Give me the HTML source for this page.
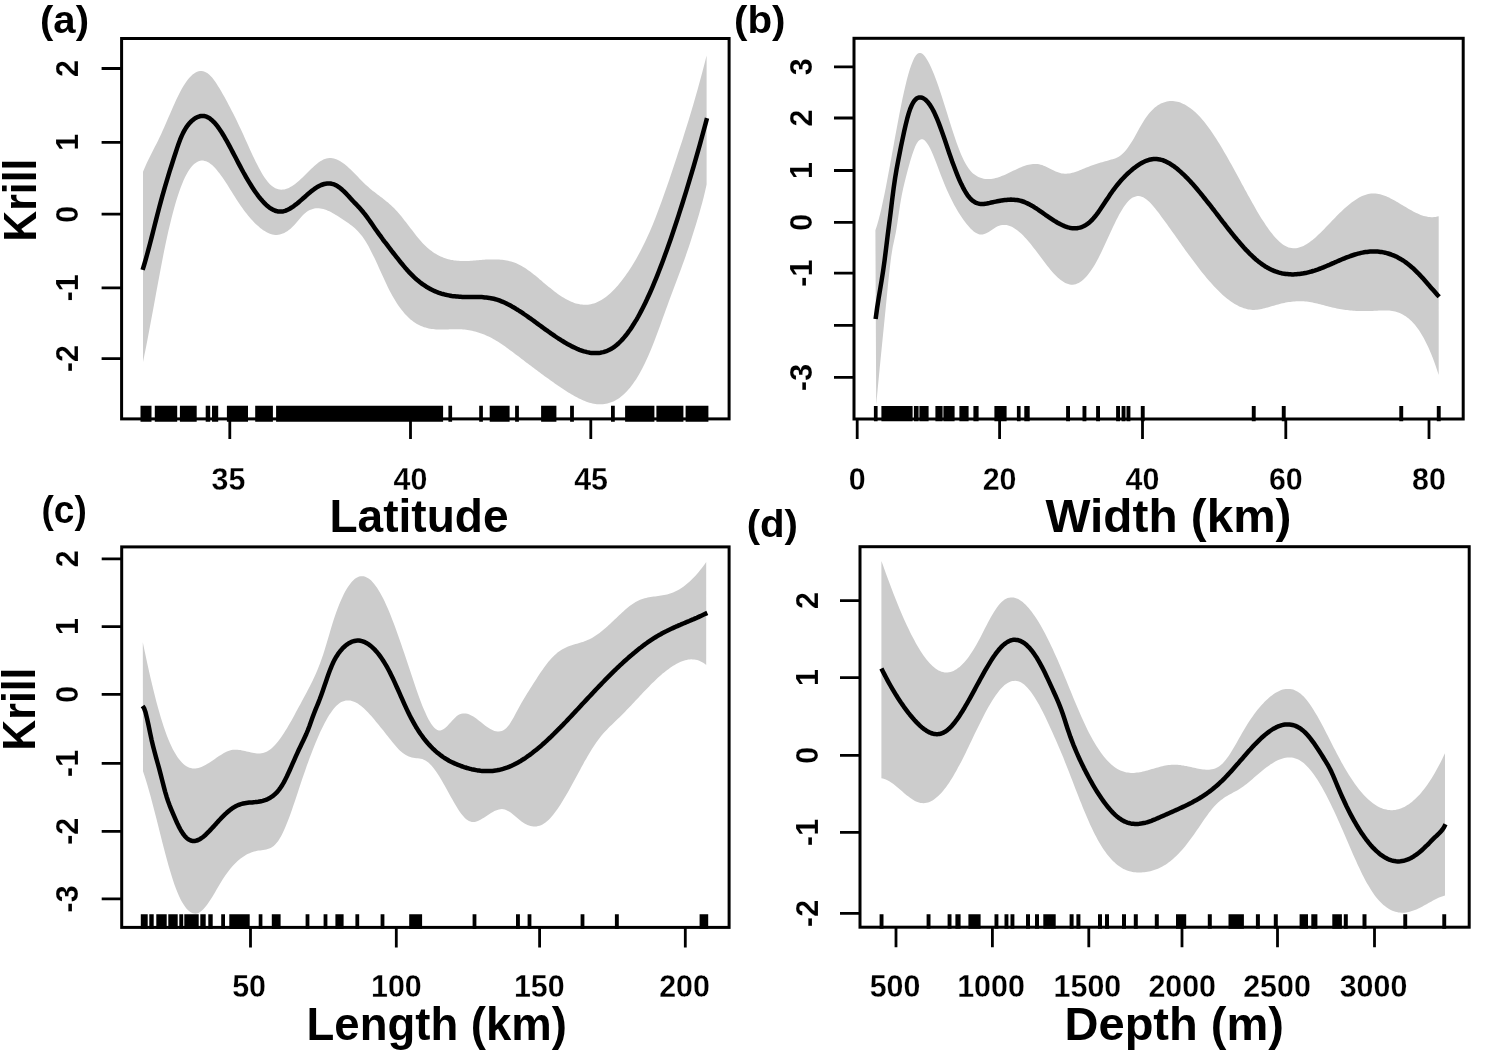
<!DOCTYPE html>
<html lang="en">
<head>
<meta charset="utf-8">
<title>Krill GAM smooths</title>
<style>
html,body{margin:0;padding:0;background:#fff;}
body{width:1500px;height:1051px;overflow:hidden;}
svg{display:block;}
text{font-family:'Liberation Sans', 'DejaVu Sans', sans-serif;font-weight:700;fill:#000;}
.tl{font-size:32.0px;stroke:#fff;stroke-width:0.25px;}
.ty{stroke-width:0.1px;}
</style>
</head>
<body>
<svg width="1500" height="1051" viewBox="0 0 1500 1051">
<rect width="1500" height="1051" fill="#fff"/>
<g>
<path d="M143.0,171.8 L144.5,168.2 L146.0,164.8 L147.5,161.6 L149.0,158.5 L150.5,155.4 L152.0,152.5 L153.5,149.6 L155.0,146.6 L156.5,143.7 L158.0,140.7 L159.5,137.6 L161.0,134.4 L162.5,131.1 L164.0,127.7 L165.5,124.2 L167.0,120.7 L168.5,117.2 L170.1,113.7 L171.6,110.2 L173.1,106.8 L174.6,103.4 L176.1,100.1 L177.6,96.9 L179.1,93.9 L180.6,91.0 L182.1,88.3 L183.6,85.8 L185.1,83.4 L186.6,81.3 L188.1,79.3 L189.6,77.6 L191.1,76.0 L192.6,74.6 L194.1,73.5 L195.6,72.6 L197.1,71.8 L198.6,71.3 L200.1,71.1 L201.6,71.0 L203.1,71.2 L204.6,71.7 L206.1,72.4 L207.6,73.3 L209.1,74.5 L210.6,75.9 L212.1,77.6 L213.6,79.5 L215.1,81.6 L216.6,83.8 L218.1,86.2 L219.6,88.6 L221.2,91.2 L222.7,93.9 L224.2,96.6 L225.7,99.3 L227.2,102.1 L228.7,104.9 L230.2,107.8 L231.7,110.7 L233.2,113.6 L234.7,116.6 L236.2,119.6 L237.7,122.7 L239.2,125.9 L240.7,129.1 L242.2,132.3 L243.7,135.6 L245.2,138.9 L246.7,142.3 L248.2,145.6 L249.7,148.9 L251.2,152.2 L252.7,155.4 L254.2,158.6 L255.7,161.7 L257.2,164.6 L258.7,167.5 L260.2,170.3 L261.7,172.9 L263.2,175.4 L264.7,177.7 L266.2,179.8 L267.7,181.8 L269.2,183.5 L270.7,185.0 L272.3,186.3 L273.8,187.3 L275.3,188.2 L276.8,188.8 L278.3,189.3 L279.8,189.6 L281.3,189.7 L282.8,189.6 L284.3,189.4 L285.8,189.0 L287.3,188.5 L288.8,187.9 L290.3,187.1 L291.8,186.2 L293.3,185.3 L294.8,184.2 L296.3,183.0 L297.8,181.8 L299.3,180.5 L300.8,179.1 L302.3,177.7 L303.8,176.3 L305.3,174.8 L306.8,173.3 L308.3,171.8 L309.8,170.3 L311.3,168.8 L312.8,167.4 L314.3,166.0 L315.8,164.7 L317.3,163.4 L318.8,162.3 L320.3,161.3 L321.8,160.4 L323.4,159.6 L324.9,159.0 L326.4,158.5 L327.9,158.2 L329.4,158.1 L330.9,158.1 L332.4,158.2 L333.9,158.5 L335.4,158.9 L336.9,159.5 L338.4,160.2 L339.9,161.0 L341.4,161.9 L342.9,162.9 L344.4,164.1 L345.9,165.3 L347.4,166.6 L348.9,167.9 L350.4,169.3 L351.9,170.8 L353.4,172.2 L354.9,173.8 L356.4,175.3 L357.9,176.8 L359.4,178.4 L360.9,179.9 L362.4,181.4 L363.9,182.9 L365.4,184.4 L366.9,185.8 L368.4,187.1 L369.9,188.4 L371.4,189.7 L372.9,190.9 L374.5,192.1 L376.0,193.2 L377.5,194.4 L379.0,195.5 L380.5,196.7 L382.0,197.8 L383.5,199.0 L385.0,200.2 L386.5,201.4 L388.0,202.6 L389.5,203.9 L391.0,205.3 L392.5,206.7 L394.0,208.1 L395.5,209.7 L397.0,211.3 L398.5,213.0 L400.0,214.8 L401.5,216.6 L403.0,218.5 L404.5,220.4 L406.0,222.3 L407.5,224.3 L409.0,226.2 L410.5,228.2 L412.0,230.1 L413.5,232.1 L415.0,234.0 L416.5,235.9 L418.0,237.7 L419.5,239.5 L421.0,241.2 L422.5,242.9 L424.0,244.5 L425.6,246.0 L427.1,247.4 L428.6,248.7 L430.1,250.0 L431.6,251.1 L433.1,252.2 L434.6,253.2 L436.1,254.1 L437.6,255.0 L439.1,255.8 L440.6,256.5 L442.1,257.1 L443.6,257.7 L445.1,258.3 L446.6,258.8 L448.1,259.2 L449.6,259.5 L451.1,259.9 L452.6,260.1 L454.1,260.4 L455.6,260.6 L457.1,260.7 L458.6,260.8 L460.1,260.9 L461.6,261.0 L463.1,261.0 L464.6,261.0 L466.1,261.0 L467.6,260.9 L469.1,260.9 L470.6,260.8 L472.1,260.7 L473.6,260.6 L475.1,260.5 L476.7,260.3 L478.2,260.2 L479.7,260.1 L481.2,260.0 L482.7,259.8 L484.2,259.7 L485.7,259.6 L487.2,259.5 L488.7,259.5 L490.2,259.4 L491.7,259.4 L493.2,259.4 L494.7,259.4 L496.2,259.4 L497.7,259.4 L499.2,259.5 L500.7,259.7 L502.2,259.8 L503.7,260.0 L505.2,260.2 L506.7,260.5 L508.2,260.8 L509.7,261.2 L511.2,261.6 L512.7,262.1 L514.2,262.6 L515.7,263.1 L517.2,263.8 L518.7,264.5 L520.2,265.2 L521.7,266.0 L523.2,266.9 L524.7,267.8 L526.2,268.8 L527.8,269.9 L529.3,270.9 L530.8,272.1 L532.3,273.2 L533.8,274.4 L535.3,275.6 L536.8,276.8 L538.3,278.1 L539.8,279.4 L541.3,280.6 L542.8,281.9 L544.3,283.2 L545.8,284.4 L547.3,285.7 L548.8,286.9 L550.3,288.1 L551.8,289.3 L553.3,290.5 L554.8,291.7 L556.3,292.8 L557.8,293.9 L559.3,294.9 L560.8,295.9 L562.3,296.9 L563.8,297.8 L565.3,298.7 L566.8,299.5 L568.3,300.3 L569.8,301.0 L571.3,301.7 L572.8,302.3 L574.3,302.9 L575.8,303.4 L577.3,303.8 L578.9,304.1 L580.4,304.4 L581.9,304.6 L583.4,304.8 L584.9,304.8 L586.4,304.8 L587.9,304.7 L589.4,304.5 L590.9,304.2 L592.4,303.8 L593.9,303.4 L595.4,302.9 L596.9,302.2 L598.4,301.6 L599.9,300.8 L601.4,299.9 L602.9,299.0 L604.4,298.0 L605.9,296.9 L607.4,295.7 L608.9,294.5 L610.4,293.2 L611.9,291.8 L613.4,290.3 L614.9,288.7 L616.4,287.1 L617.9,285.4 L619.4,283.6 L620.9,281.8 L622.4,279.8 L623.9,277.8 L625.4,275.8 L626.9,273.6 L628.4,271.4 L630.0,269.1 L631.5,266.7 L633.0,264.3 L634.5,261.8 L636.0,259.2 L637.5,256.5 L639.0,253.8 L640.5,250.9 L642.0,248.0 L643.5,245.0 L645.0,241.9 L646.5,238.8 L648.0,235.5 L649.5,232.2 L651.0,228.8 L652.5,225.2 L654.0,221.5 L655.5,217.7 L657.0,213.8 L658.5,209.8 L660.0,205.8 L661.5,201.7 L663.0,197.5 L664.5,193.3 L666.0,189.0 L667.5,184.7 L669.0,180.4 L670.5,176.0 L672.0,171.5 L673.5,167.0 L675.0,162.5 L676.5,157.9 L678.0,153.3 L679.5,148.7 L681.1,144.0 L682.6,139.4 L684.1,134.6 L685.6,129.8 L687.1,125.0 L688.6,120.2 L690.1,115.2 L691.6,110.2 L693.1,105.2 L694.6,100.0 L696.1,94.8 L697.6,89.5 L699.1,84.1 L700.6,78.6 L702.1,73.0 L703.6,67.3 L705.1,61.5 L706.6,55.4 L706.6,184.4 L705.1,191.3 L703.6,197.5 L702.1,203.2 L700.6,208.6 L699.1,213.9 L697.6,219.0 L696.1,223.9 L694.6,228.8 L693.1,233.6 L691.6,238.3 L690.1,242.9 L688.6,247.4 L687.1,251.8 L685.6,256.2 L684.1,260.4 L682.6,264.6 L681.1,268.8 L679.5,272.9 L678.0,276.9 L676.5,280.9 L675.0,285.0 L673.5,289.0 L672.0,293.0 L670.5,297.0 L669.0,301.1 L667.5,305.2 L666.0,309.3 L664.5,313.5 L663.0,317.6 L661.5,321.8 L660.0,325.9 L658.5,330.0 L657.0,334.0 L655.5,338.0 L654.0,341.9 L652.5,345.7 L651.0,349.4 L649.5,353.0 L648.0,356.5 L646.5,359.8 L645.0,363.0 L643.5,366.1 L642.0,369.0 L640.5,371.8 L639.0,374.4 L637.5,377.0 L636.0,379.4 L634.5,381.6 L633.0,383.8 L631.5,385.8 L630.0,387.7 L628.4,389.5 L626.9,391.2 L625.4,392.7 L623.9,394.2 L622.4,395.5 L620.9,396.7 L619.4,397.9 L617.9,398.9 L616.4,399.8 L614.9,400.7 L613.4,401.4 L611.9,402.1 L610.4,402.6 L608.9,403.1 L607.4,403.5 L605.9,403.8 L604.4,404.1 L602.9,404.2 L601.4,404.3 L599.9,404.3 L598.4,404.3 L596.9,404.2 L595.4,404.0 L593.9,403.7 L592.4,403.4 L590.9,403.1 L589.4,402.7 L587.9,402.2 L586.4,401.7 L584.9,401.1 L583.4,400.5 L581.9,399.8 L580.4,399.1 L578.9,398.4 L577.3,397.6 L575.8,396.8 L574.3,396.0 L572.8,395.1 L571.3,394.2 L569.8,393.3 L568.3,392.4 L566.8,391.4 L565.3,390.5 L563.8,389.5 L562.3,388.5 L560.8,387.5 L559.3,386.5 L557.8,385.4 L556.3,384.4 L554.8,383.4 L553.3,382.3 L551.8,381.3 L550.3,380.2 L548.8,379.1 L547.3,378.0 L545.8,377.0 L544.3,375.9 L542.8,374.8 L541.3,373.7 L539.8,372.6 L538.3,371.4 L536.8,370.3 L535.3,369.2 L533.8,368.1 L532.3,366.9 L530.8,365.8 L529.3,364.7 L527.8,363.5 L526.2,362.4 L524.7,361.2 L523.2,360.1 L521.7,358.9 L520.2,357.8 L518.7,356.6 L517.2,355.5 L515.7,354.4 L514.2,353.2 L512.7,352.1 L511.2,351.0 L509.7,349.9 L508.2,348.8 L506.7,347.7 L505.2,346.6 L503.7,345.6 L502.2,344.5 L500.7,343.5 L499.2,342.6 L497.7,341.6 L496.2,340.7 L494.7,339.8 L493.2,339.0 L491.7,338.1 L490.2,337.3 L488.7,336.6 L487.2,335.9 L485.7,335.2 L484.2,334.6 L482.7,334.0 L481.2,333.4 L479.7,332.9 L478.2,332.4 L476.7,332.0 L475.1,331.6 L473.6,331.2 L472.1,330.8 L470.6,330.5 L469.1,330.2 L467.6,330.0 L466.1,329.8 L464.6,329.6 L463.1,329.4 L461.6,329.3 L460.1,329.2 L458.6,329.2 L457.1,329.2 L455.6,329.2 L454.1,329.2 L452.6,329.2 L451.1,329.3 L449.6,329.3 L448.1,329.4 L446.6,329.4 L445.1,329.5 L443.6,329.5 L442.1,329.5 L440.6,329.5 L439.1,329.5 L437.6,329.5 L436.1,329.4 L434.6,329.3 L433.1,329.1 L431.6,328.9 L430.1,328.7 L428.6,328.4 L427.1,328.0 L425.6,327.6 L424.0,327.2 L422.5,326.6 L421.0,326.0 L419.5,325.3 L418.0,324.6 L416.5,323.7 L415.0,322.8 L413.5,321.7 L412.0,320.6 L410.5,319.4 L409.0,318.0 L407.5,316.6 L406.0,315.1 L404.5,313.4 L403.0,311.6 L401.5,309.8 L400.0,307.8 L398.5,305.7 L397.0,303.4 L395.5,301.1 L394.0,298.6 L392.5,296.0 L391.0,293.2 L389.5,290.4 L388.0,287.4 L386.5,284.3 L385.0,281.1 L383.5,277.8 L382.0,274.5 L380.5,271.2 L379.0,267.9 L377.5,264.6 L376.0,261.3 L374.5,258.1 L372.9,254.9 L371.4,251.9 L369.9,248.9 L368.4,246.1 L366.9,243.5 L365.4,241.0 L363.9,238.7 L362.4,236.6 L360.9,234.7 L359.4,232.9 L357.9,231.2 L356.4,229.7 L354.9,228.3 L353.4,227.0 L351.9,225.8 L350.4,224.7 L348.9,223.6 L347.4,222.6 L345.9,221.6 L344.4,220.6 L342.9,219.6 L341.4,218.6 L339.9,217.6 L338.4,216.6 L336.9,215.6 L335.4,214.7 L333.9,213.8 L332.4,212.9 L330.9,212.1 L329.4,211.3 L327.9,210.7 L326.4,210.0 L324.9,209.5 L323.4,209.0 L321.8,208.7 L320.3,208.4 L318.8,208.3 L317.3,208.2 L315.8,208.3 L314.3,208.5 L312.8,208.9 L311.3,209.4 L309.8,210.0 L308.3,210.8 L306.8,211.8 L305.3,213.0 L303.8,214.3 L302.3,215.8 L300.8,217.5 L299.3,219.2 L297.8,220.9 L296.3,222.7 L294.8,224.4 L293.3,226.0 L291.8,227.5 L290.3,228.9 L288.8,230.1 L287.3,231.2 L285.8,232.1 L284.3,232.9 L282.8,233.6 L281.3,234.1 L279.8,234.5 L278.3,234.8 L276.8,234.9 L275.3,234.9 L273.8,234.7 L272.3,234.4 L270.7,234.0 L269.2,233.4 L267.7,232.8 L266.2,232.0 L264.7,231.1 L263.2,230.2 L261.7,229.1 L260.2,227.9 L258.7,226.6 L257.2,225.3 L255.7,223.9 L254.2,222.4 L252.7,220.8 L251.2,219.2 L249.7,217.5 L248.2,215.7 L246.7,213.8 L245.2,211.9 L243.7,209.9 L242.2,207.8 L240.7,205.7 L239.2,203.5 L237.7,201.2 L236.2,198.9 L234.7,196.6 L233.2,194.2 L231.7,191.8 L230.2,189.4 L228.7,187.0 L227.2,184.6 L225.7,182.3 L224.2,180.0 L222.7,177.8 L221.2,175.7 L219.6,173.6 L218.1,171.7 L216.6,169.8 L215.1,168.1 L213.6,166.5 L212.1,165.1 L210.6,163.9 L209.1,162.8 L207.6,162.0 L206.1,161.3 L204.6,160.9 L203.1,160.6 L201.6,160.6 L200.1,160.8 L198.6,161.2 L197.1,161.9 L195.6,162.9 L194.1,164.1 L192.6,165.5 L191.1,167.3 L189.6,169.3 L188.1,171.6 L186.6,174.2 L185.1,177.1 L183.6,180.3 L182.1,183.9 L180.6,187.7 L179.1,191.9 L177.6,196.5 L176.1,201.3 L174.6,206.5 L173.1,211.9 L171.6,217.8 L170.1,223.9 L168.5,230.4 L167.0,237.2 L165.5,244.2 L164.0,251.6 L162.5,259.2 L161.0,266.9 L159.5,274.9 L158.0,282.9 L156.5,291.0 L155.0,299.2 L153.5,307.4 L152.0,315.6 L150.5,323.6 L149.0,331.6 L147.5,339.5 L146.0,347.2 L144.5,354.6 L143.0,361.9Z" fill="#cccccc"/>
<path d="M142.6,269.8 L144.1,265.0 L145.6,259.8 L147.1,254.5 L148.6,248.9 L150.1,243.2 L151.6,237.4 L153.1,231.5 L154.6,225.5 L156.1,219.6 L157.6,213.8 L159.1,208.0 L160.6,202.4 L162.1,196.9 L163.6,191.6 L165.1,186.4 L166.6,181.3 L168.1,176.3 L169.6,171.4 L171.1,166.7 L172.6,162.0 L174.1,157.3 L175.6,152.7 L177.1,148.1 L178.6,143.7 L180.1,139.7 L181.6,136.1 L183.1,132.9 L184.6,130.1 L186.1,127.6 L187.6,125.5 L189.1,123.6 L190.6,122.0 L192.1,120.6 L193.6,119.4 L195.1,118.3 L196.6,117.5 L198.1,116.8 L199.6,116.3 L201.1,116.0 L202.6,115.9 L204.1,116.0 L205.6,116.4 L207.1,116.9 L208.6,117.7 L210.1,118.7 L211.6,119.9 L213.1,121.3 L214.7,122.9 L216.2,124.7 L217.7,126.6 L219.2,128.7 L220.7,130.9 L222.2,133.3 L223.7,135.7 L225.2,138.3 L226.7,140.9 L228.2,143.6 L229.7,146.4 L231.2,149.2 L232.7,152.1 L234.2,155.0 L235.7,157.8 L237.2,160.7 L238.7,163.6 L240.2,166.4 L241.7,169.2 L243.2,172.0 L244.7,174.6 L246.2,177.3 L247.7,179.9 L249.2,182.4 L250.7,184.8 L252.2,187.2 L253.7,189.5 L255.2,191.7 L256.7,193.8 L258.2,195.9 L259.7,197.8 L261.2,199.6 L262.7,201.3 L264.2,202.9 L265.7,204.4 L267.2,205.8 L268.7,207.0 L270.2,208.1 L271.7,209.0 L273.2,209.9 L274.7,210.5 L276.2,211.0 L277.7,211.4 L279.2,211.6 L280.7,211.6 L282.2,211.5 L283.7,211.2 L285.2,210.8 L286.7,210.2 L288.2,209.5 L289.7,208.7 L291.2,207.8 L292.7,206.9 L294.2,205.8 L295.7,204.6 L297.2,203.5 L298.7,202.2 L300.2,200.9 L301.7,199.6 L303.2,198.3 L304.7,197.0 L306.2,195.6 L307.7,194.3 L309.2,193.1 L310.7,191.8 L312.2,190.6 L313.7,189.5 L315.2,188.4 L316.7,187.4 L318.2,186.5 L319.7,185.7 L321.2,185.0 L322.7,184.5 L324.2,184.0 L325.7,183.7 L327.2,183.5 L328.7,183.5 L330.2,183.5 L331.7,183.8 L333.2,184.2 L334.7,184.7 L336.2,185.4 L337.7,186.3 L339.2,187.3 L340.7,188.5 L342.2,189.8 L343.7,191.2 L345.2,192.7 L346.7,194.2 L348.2,195.8 L349.7,197.4 L351.2,199.1 L352.7,200.7 L354.2,202.3 L355.8,203.9 L357.3,205.5 L358.8,207.1 L360.3,208.8 L361.8,210.5 L363.3,212.3 L364.8,214.2 L366.3,216.2 L367.8,218.2 L369.3,220.3 L370.8,222.4 L372.3,224.6 L373.8,226.7 L375.3,228.9 L376.8,231.0 L378.3,233.1 L379.8,235.2 L381.3,237.2 L382.8,239.3 L384.3,241.3 L385.8,243.2 L387.3,245.2 L388.8,247.2 L390.3,249.1 L391.8,251.1 L393.3,253.0 L394.8,254.9 L396.3,256.8 L397.8,258.7 L399.3,260.6 L400.8,262.5 L402.3,264.3 L403.8,266.1 L405.3,267.9 L406.8,269.6 L408.3,271.2 L409.8,272.9 L411.3,274.4 L412.8,275.9 L414.3,277.4 L415.8,278.8 L417.3,280.1 L418.8,281.3 L420.3,282.5 L421.8,283.6 L423.3,284.7 L424.8,285.7 L426.3,286.7 L427.8,287.6 L429.3,288.4 L430.8,289.3 L432.3,290.0 L433.8,290.7 L435.3,291.4 L436.8,292.0 L438.3,292.6 L439.8,293.1 L441.3,293.6 L442.8,294.0 L444.3,294.4 L445.8,294.8 L447.3,295.1 L448.8,295.4 L450.3,295.7 L451.8,296.0 L453.3,296.2 L454.8,296.3 L456.3,296.5 L457.8,296.6 L459.3,296.7 L460.8,296.8 L462.3,296.9 L463.8,296.9 L465.3,296.9 L466.8,296.9 L468.3,296.9 L469.8,296.9 L471.3,296.9 L472.8,296.9 L474.3,297.0 L475.8,297.0 L477.3,297.0 L478.8,297.0 L480.3,297.1 L481.8,297.1 L483.3,297.2 L484.8,297.4 L486.3,297.5 L487.8,297.7 L489.3,297.9 L490.8,298.2 L492.3,298.5 L493.8,298.8 L495.4,299.2 L496.9,299.6 L498.4,300.1 L499.9,300.7 L501.4,301.3 L502.9,301.9 L504.4,302.5 L505.9,303.2 L507.4,304.0 L508.9,304.7 L510.4,305.5 L511.9,306.4 L513.4,307.2 L514.9,308.1 L516.4,309.1 L517.9,310.0 L519.4,311.0 L520.9,311.9 L522.4,312.9 L523.9,314.0 L525.4,315.0 L526.9,316.0 L528.4,317.1 L529.9,318.2 L531.4,319.2 L532.9,320.3 L534.4,321.4 L535.9,322.5 L537.4,323.6 L538.9,324.7 L540.4,325.8 L541.9,326.9 L543.4,328.0 L544.9,329.1 L546.4,330.2 L547.9,331.2 L549.4,332.3 L550.9,333.4 L552.4,334.4 L553.9,335.4 L555.4,336.5 L556.9,337.5 L558.4,338.5 L559.9,339.4 L561.4,340.4 L562.9,341.3 L564.4,342.2 L565.9,343.1 L567.4,344.0 L568.9,344.8 L570.4,345.6 L571.9,346.4 L573.4,347.1 L574.9,347.8 L576.4,348.5 L577.9,349.2 L579.4,349.8 L580.9,350.3 L582.4,350.8 L583.9,351.3 L585.4,351.7 L586.9,352.1 L588.4,352.4 L589.9,352.7 L591.4,352.9 L592.9,353.0 L594.4,353.1 L595.9,353.1 L597.4,353.1 L598.9,352.9 L600.4,352.7 L601.9,352.4 L603.4,352.1 L604.9,351.6 L606.4,351.1 L607.9,350.5 L609.4,349.8 L610.9,349.0 L612.4,348.1 L613.9,347.1 L615.4,346.0 L616.9,344.8 L618.4,343.5 L619.9,342.0 L621.4,340.5 L622.9,338.9 L624.4,337.1 L625.9,335.3 L627.4,333.4 L628.9,331.3 L630.4,329.2 L631.9,326.9 L633.4,324.6 L634.9,322.1 L636.5,319.6 L638.0,317.0 L639.5,314.2 L641.0,311.4 L642.5,308.5 L644.0,305.5 L645.5,302.4 L647.0,299.3 L648.5,296.0 L650.0,292.7 L651.5,289.3 L653.0,285.8 L654.5,282.2 L656.0,278.6 L657.5,274.8 L659.0,271.0 L660.5,267.2 L662.0,263.2 L663.5,259.2 L665.0,255.1 L666.5,251.0 L668.0,246.8 L669.5,242.5 L671.0,238.2 L672.5,233.8 L674.0,229.3 L675.5,224.8 L677.0,220.2 L678.5,215.6 L680.0,210.9 L681.5,206.2 L683.0,201.5 L684.5,196.6 L686.0,191.8 L687.5,186.9 L689.0,181.9 L690.5,176.9 L692.0,171.9 L693.5,166.8 L695.0,161.6 L696.5,156.4 L698.0,151.1 L699.5,145.8 L701.0,140.4 L702.5,134.9 L704.0,129.4 L705.5,123.8 L707.0,118.1" fill="none" stroke="#000" stroke-width="4.5" stroke-linejoin="round" stroke-linecap="butt"/>
<path d="M140.5,405.7H151.5V421.8H140.5ZM154.8,405.7H177.2V421.8H154.8ZM179.9,405.7H196.7V421.8H179.9ZM205.7,405.7H210.2V421.8H205.7ZM212.0,405.7H218.2V421.8H212.0ZM226.9,405.7H248.0V421.8H226.9ZM255.2,405.7H272.9V421.8H255.2ZM276.1,405.7H443.1V421.8H276.1ZM448.4,405.7H452.1V421.8H448.4ZM479.2,405.7H482.9V421.8H479.2ZM489.7,405.7H509.6V421.8H489.7ZM515.1,405.7H518.9V421.8H515.1ZM541.1,405.7H556.4V421.8H541.1ZM570.1,405.7H573.9V421.8H570.1ZM611.0,405.7H614.8V421.8H611.0ZM625.1,405.7H654.4V421.8H625.1ZM656.4,405.7H683.4V421.8H656.4ZM685.6,405.7H708.4V421.8H685.6Z" fill="#000"/>
<rect x="121.6" y="38.5" width="607.5" height="380.4" fill="none" stroke="#000" stroke-width="3.0"/>
<path d="M121.6,68.5h-20.0M121.6,142.4h-20.0M121.6,214.2h-20.0M121.6,287.8h-20.0M121.6,358.6h-20.0M229.8,418.9v20.0M410.5,418.9v20.0M590.8,418.9v20.0" fill="none" stroke="#000" stroke-width="2.8"/>
<text class="tl ty" text-anchor="middle" transform="translate(78.3,68.5) rotate(-90) scale(0.95,1)">2</text>
<text class="tl ty" text-anchor="middle" transform="translate(78.3,142.4) rotate(-90) scale(0.95,1)">1</text>
<text class="tl ty" text-anchor="middle" transform="translate(78.3,214.2) rotate(-90) scale(0.95,1)">0</text>
<text class="tl ty" text-anchor="middle" transform="translate(78.3,287.8) rotate(-90) scale(0.95,1)">-1</text>
<text class="tl ty" text-anchor="middle" transform="translate(78.3,358.6) rotate(-90) scale(0.95,1)">-2</text>
<text class="tl" text-anchor="middle" transform="translate(228.4,489.9) scale(0.95,1)">35</text>
<text class="tl" text-anchor="middle" transform="translate(410.5,489.9) scale(0.95,1)">40</text>
<text class="tl" text-anchor="middle" transform="translate(591.1,489.9) scale(0.95,1)">45</text>
</g>
<g>
<path d="M875.4,230.3 L876.9,225.7 L878.4,220.5 L879.9,214.7 L881.4,208.4 L882.9,201.6 L884.4,194.4 L885.9,186.9 L887.4,179.1 L888.9,171.1 L890.4,163.0 L891.9,154.7 L893.4,146.4 L894.9,138.1 L896.4,129.9 L897.9,121.9 L899.4,114.0 L900.9,106.4 L902.4,99.1 L903.9,92.2 L905.4,85.7 L906.9,79.6 L908.4,74.0 L909.9,68.9 L911.5,64.5 L913.0,60.7 L914.5,57.6 L916.0,55.2 L917.5,53.7 L919.0,52.9 L920.5,52.9 L922.0,53.5 L923.5,54.7 L925.0,56.5 L926.5,58.7 L928.0,61.2 L929.5,64.1 L931.0,67.3 L932.5,70.7 L934.0,74.3 L935.5,78.2 L937.0,82.3 L938.5,86.6 L940.0,91.0 L941.5,95.6 L943.0,100.2 L944.5,105.0 L946.0,109.8 L947.5,114.6 L949.0,119.4 L950.5,124.2 L952.0,128.9 L953.5,133.6 L955.0,138.1 L956.5,142.4 L958.0,146.6 L959.5,150.5 L961.0,154.2 L962.5,157.6 L964.0,160.8 L965.5,163.6 L967.0,166.1 L968.5,168.3 L970.0,170.2 L971.5,171.9 L973.0,173.4 L974.5,174.6 L976.0,175.6 L977.5,176.5 L979.0,177.2 L980.5,177.8 L982.1,178.3 L983.6,178.7 L985.1,178.9 L986.6,179.0 L988.1,179.1 L989.6,179.1 L991.1,178.9 L992.6,178.7 L994.1,178.4 L995.6,178.1 L997.1,177.7 L998.6,177.2 L1000.1,176.7 L1001.6,176.1 L1003.1,175.5 L1004.6,174.9 L1006.1,174.2 L1007.6,173.5 L1009.1,172.8 L1010.6,172.1 L1012.1,171.3 L1013.6,170.6 L1015.1,169.9 L1016.6,169.2 L1018.1,168.5 L1019.6,167.8 L1021.1,167.2 L1022.6,166.6 L1024.1,166.0 L1025.6,165.5 L1027.1,165.1 L1028.6,164.7 L1030.1,164.4 L1031.6,164.2 L1033.1,164.0 L1034.6,163.9 L1036.1,164.0 L1037.6,164.1 L1039.1,164.3 L1040.6,164.7 L1042.1,165.1 L1043.6,165.7 L1045.1,166.3 L1046.6,167.0 L1048.1,167.7 L1049.6,168.4 L1051.1,169.2 L1052.7,169.9 L1054.2,170.7 L1055.7,171.4 L1057.2,172.0 L1058.7,172.6 L1060.2,173.0 L1061.7,173.4 L1063.2,173.6 L1064.7,173.7 L1066.2,173.7 L1067.7,173.6 L1069.2,173.5 L1070.7,173.2 L1072.2,172.8 L1073.7,172.4 L1075.2,171.9 L1076.7,171.4 L1078.2,170.9 L1079.7,170.3 L1081.2,169.7 L1082.7,169.1 L1084.2,168.5 L1085.7,167.8 L1087.2,167.2 L1088.7,166.7 L1090.2,166.1 L1091.7,165.6 L1093.2,165.0 L1094.7,164.5 L1096.2,164.0 L1097.7,163.5 L1099.2,163.1 L1100.7,162.6 L1102.2,162.2 L1103.7,161.7 L1105.2,161.3 L1106.7,160.9 L1108.2,160.4 L1109.7,160.0 L1111.2,159.6 L1112.7,159.2 L1114.2,158.7 L1115.7,158.2 L1117.2,157.5 L1118.7,156.7 L1120.2,155.7 L1121.7,154.5 L1123.3,153.1 L1124.8,151.5 L1126.3,149.7 L1127.8,147.7 L1129.3,145.6 L1130.8,143.3 L1132.3,140.9 L1133.8,138.4 L1135.3,135.7 L1136.8,133.0 L1138.3,130.3 L1139.8,127.6 L1141.3,124.9 L1142.8,122.4 L1144.3,120.0 L1145.8,117.7 L1147.3,115.7 L1148.8,113.7 L1150.3,112.0 L1151.8,110.4 L1153.3,108.9 L1154.8,107.6 L1156.3,106.4 L1157.8,105.3 L1159.3,104.4 L1160.8,103.6 L1162.3,102.9 L1163.8,102.4 L1165.3,101.9 L1166.8,101.5 L1168.3,101.3 L1169.8,101.1 L1171.3,101.1 L1172.8,101.1 L1174.3,101.2 L1175.8,101.4 L1177.3,101.7 L1178.8,102.1 L1180.3,102.6 L1181.8,103.2 L1183.3,103.9 L1184.8,104.6 L1186.3,105.5 L1187.8,106.4 L1189.3,107.4 L1190.8,108.5 L1192.4,109.7 L1193.9,110.9 L1195.4,112.3 L1196.9,113.7 L1198.4,115.2 L1199.9,116.8 L1201.4,118.5 L1202.9,120.2 L1204.4,122.0 L1205.9,123.9 L1207.4,125.9 L1208.9,127.9 L1210.4,130.0 L1211.9,132.2 L1213.4,134.4 L1214.9,136.7 L1216.4,139.0 L1217.9,141.4 L1219.4,143.8 L1220.9,146.3 L1222.4,148.8 L1223.9,151.4 L1225.4,154.0 L1226.9,156.6 L1228.4,159.2 L1229.9,161.9 L1231.4,164.6 L1232.9,167.3 L1234.4,170.1 L1235.9,172.8 L1237.4,175.6 L1238.9,178.3 L1240.4,181.1 L1241.9,183.9 L1243.4,186.6 L1244.9,189.4 L1246.4,192.1 L1247.9,194.9 L1249.4,197.6 L1250.9,200.3 L1252.4,203.0 L1253.9,205.6 L1255.4,208.3 L1256.9,210.9 L1258.4,213.4 L1259.9,215.9 L1261.4,218.4 L1263.0,220.8 L1264.5,223.1 L1266.0,225.4 L1267.5,227.5 L1269.0,229.7 L1270.5,231.7 L1272.0,233.6 L1273.5,235.5 L1275.0,237.2 L1276.5,238.8 L1278.0,240.3 L1279.5,241.8 L1281.0,243.0 L1282.5,244.2 L1284.0,245.2 L1285.5,246.1 L1287.0,246.8 L1288.5,247.4 L1290.0,247.8 L1291.5,248.1 L1293.0,248.3 L1294.5,248.3 L1296.0,248.2 L1297.5,247.9 L1299.0,247.6 L1300.5,247.1 L1302.0,246.5 L1303.5,245.9 L1305.0,245.1 L1306.5,244.2 L1308.0,243.3 L1309.5,242.2 L1311.0,241.1 L1312.5,239.9 L1314.0,238.7 L1315.5,237.4 L1317.0,236.0 L1318.5,234.6 L1320.0,233.2 L1321.5,231.7 L1323.0,230.2 L1324.5,228.7 L1326.0,227.1 L1327.5,225.5 L1329.0,224.0 L1330.5,222.4 L1332.0,220.8 L1333.6,219.2 L1335.1,217.7 L1336.6,216.1 L1338.1,214.6 L1339.6,213.1 L1341.1,211.7 L1342.6,210.2 L1344.1,208.8 L1345.6,207.5 L1347.1,206.2 L1348.6,204.9 L1350.1,203.7 L1351.6,202.5 L1353.1,201.4 L1354.6,200.4 L1356.1,199.4 L1357.6,198.4 L1359.1,197.6 L1360.6,196.8 L1362.1,196.1 L1363.6,195.4 L1365.1,194.9 L1366.6,194.4 L1368.1,194.0 L1369.6,193.7 L1371.1,193.5 L1372.6,193.4 L1374.1,193.4 L1375.6,193.5 L1377.1,193.7 L1378.6,193.9 L1380.1,194.3 L1381.6,194.7 L1383.1,195.2 L1384.6,195.7 L1386.1,196.3 L1387.6,196.9 L1389.1,197.6 L1390.6,198.4 L1392.1,199.2 L1393.6,200.0 L1395.1,200.8 L1396.6,201.7 L1398.1,202.6 L1399.6,203.5 L1401.1,204.4 L1402.6,205.3 L1404.2,206.2 L1405.7,207.1 L1407.2,208.0 L1408.7,208.9 L1410.2,209.8 L1411.7,210.6 L1413.2,211.4 L1414.7,212.2 L1416.2,212.9 L1417.7,213.6 L1419.2,214.3 L1420.7,214.9 L1422.2,215.4 L1423.7,215.9 L1425.2,216.3 L1426.7,216.6 L1428.2,216.9 L1429.7,217.1 L1431.2,217.2 L1432.7,217.2 L1434.2,217.1 L1435.7,216.9 L1437.2,216.6 L1438.7,216.2 L1438.7,375.1 L1437.2,370.4 L1435.7,366.0 L1434.2,361.8 L1432.7,357.8 L1431.2,354.0 L1429.7,350.4 L1428.2,347.0 L1426.7,343.9 L1425.2,340.9 L1423.7,338.0 L1422.2,335.4 L1420.7,332.9 L1419.2,330.6 L1417.7,328.4 L1416.2,326.4 L1414.7,324.6 L1413.2,322.9 L1411.7,321.3 L1410.2,319.9 L1408.7,318.6 L1407.2,317.4 L1405.7,316.3 L1404.2,315.4 L1402.7,314.5 L1401.2,313.8 L1399.7,313.1 L1398.2,312.5 L1396.7,312.0 L1395.2,311.6 L1393.7,311.3 L1392.2,311.0 L1390.7,310.8 L1389.2,310.6 L1387.7,310.5 L1386.2,310.4 L1384.7,310.4 L1383.2,310.4 L1381.7,310.5 L1380.2,310.5 L1378.7,310.6 L1377.2,310.7 L1375.7,310.7 L1374.2,310.8 L1372.7,310.9 L1371.2,311.0 L1369.7,311.0 L1368.2,311.1 L1366.7,311.1 L1365.2,311.1 L1363.7,311.1 L1362.2,311.1 L1360.7,311.1 L1359.2,311.0 L1357.7,311.0 L1356.2,310.9 L1354.7,310.8 L1353.2,310.7 L1351.7,310.6 L1350.2,310.4 L1348.7,310.3 L1347.2,310.1 L1345.7,309.9 L1344.2,309.7 L1342.7,309.5 L1341.2,309.3 L1339.7,309.0 L1338.2,308.7 L1336.7,308.4 L1335.2,308.1 L1333.7,307.8 L1332.2,307.4 L1330.7,307.1 L1329.2,306.7 L1327.7,306.3 L1326.2,305.9 L1324.7,305.5 L1323.2,305.1 L1321.7,304.7 L1320.2,304.3 L1318.7,303.9 L1317.2,303.5 L1315.7,303.2 L1314.2,302.9 L1312.7,302.5 L1311.2,302.2 L1309.7,302.0 L1308.2,301.8 L1306.7,301.6 L1305.2,301.4 L1303.7,301.3 L1302.2,301.2 L1300.7,301.2 L1299.2,301.2 L1297.7,301.2 L1296.2,301.3 L1294.7,301.4 L1293.2,301.5 L1291.7,301.7 L1290.2,301.9 L1288.7,302.1 L1287.2,302.3 L1285.7,302.6 L1284.2,302.9 L1282.7,303.3 L1281.2,303.6 L1279.7,304.0 L1278.2,304.4 L1276.7,304.8 L1275.2,305.2 L1273.7,305.7 L1272.2,306.1 L1270.7,306.6 L1269.2,307.0 L1267.7,307.4 L1266.2,307.8 L1264.7,308.2 L1263.2,308.6 L1261.7,308.9 L1260.2,309.2 L1258.7,309.5 L1257.2,309.7 L1255.7,309.8 L1254.2,309.9 L1252.7,309.9 L1251.2,309.8 L1249.7,309.6 L1248.2,309.4 L1246.7,309.0 L1245.2,308.6 L1243.7,308.2 L1242.2,307.6 L1240.7,307.0 L1239.2,306.4 L1237.7,305.6 L1236.2,304.8 L1234.7,303.9 L1233.2,303.0 L1231.7,302.0 L1230.2,301.0 L1228.7,299.8 L1227.2,298.7 L1225.7,297.5 L1224.2,296.2 L1222.7,294.9 L1221.2,293.5 L1219.7,292.1 L1218.2,290.6 L1216.7,289.1 L1215.2,287.5 L1213.7,285.9 L1212.2,284.3 L1210.7,282.6 L1209.2,280.9 L1207.7,279.2 L1206.2,277.4 L1204.7,275.6 L1203.2,273.7 L1201.7,271.9 L1200.2,270.0 L1198.7,268.0 L1197.2,266.1 L1195.7,264.1 L1194.2,262.1 L1192.7,260.1 L1191.2,258.1 L1189.7,256.1 L1188.2,254.0 L1186.7,251.9 L1185.2,249.9 L1183.7,247.8 L1182.2,245.7 L1180.7,243.6 L1179.2,241.5 L1177.7,239.3 L1176.2,237.2 L1174.7,235.1 L1173.2,233.0 L1171.7,230.9 L1170.2,228.8 L1168.7,226.7 L1167.2,224.6 L1165.7,222.5 L1164.2,220.5 L1162.7,218.4 L1161.2,216.4 L1159.7,214.3 L1158.2,212.3 L1156.7,210.4 L1155.2,208.5 L1153.7,206.7 L1152.2,204.9 L1150.7,203.3 L1149.2,201.8 L1147.7,200.4 L1146.2,199.2 L1144.7,198.2 L1143.2,197.3 L1141.7,196.7 L1140.2,196.3 L1138.7,196.0 L1137.2,196.1 L1135.7,196.4 L1134.2,196.9 L1132.7,197.6 L1131.2,198.6 L1129.7,199.8 L1128.2,201.3 L1126.7,203.0 L1125.2,204.9 L1123.7,207.0 L1122.2,209.4 L1120.7,211.9 L1119.2,214.6 L1117.7,217.4 L1116.2,220.3 L1114.7,223.4 L1113.2,226.5 L1111.7,229.7 L1110.2,233.0 L1108.7,236.2 L1107.2,239.5 L1105.7,242.8 L1104.2,246.1 L1102.7,249.3 L1101.2,252.4 L1099.7,255.5 L1098.2,258.4 L1096.7,261.2 L1095.2,263.9 L1093.7,266.4 L1092.2,268.8 L1090.7,271.0 L1089.2,273.1 L1087.7,275.0 L1086.2,276.7 L1084.7,278.3 L1083.2,279.7 L1081.7,281.0 L1080.2,282.0 L1078.7,282.9 L1077.2,283.6 L1075.7,284.2 L1074.2,284.5 L1072.7,284.7 L1071.2,284.7 L1069.7,284.5 L1068.2,284.1 L1066.7,283.6 L1065.2,282.9 L1063.7,282.1 L1062.2,281.1 L1060.7,280.0 L1059.2,278.8 L1057.7,277.5 L1056.2,276.0 L1054.7,274.5 L1053.2,272.9 L1051.7,271.2 L1050.2,269.4 L1048.7,267.6 L1047.2,265.7 L1045.7,263.8 L1044.2,261.8 L1042.7,259.8 L1041.2,257.8 L1039.7,255.8 L1038.2,253.8 L1036.7,251.8 L1035.2,249.8 L1033.7,247.9 L1032.2,246.0 L1030.7,244.1 L1029.2,242.3 L1027.7,240.5 L1026.2,238.8 L1024.7,237.2 L1023.2,235.6 L1021.7,234.1 L1020.2,232.8 L1018.7,231.5 L1017.2,230.3 L1015.7,229.2 L1014.2,228.2 L1012.7,227.3 L1011.2,226.6 L1009.7,226.0 L1008.2,225.5 L1006.7,225.1 L1005.2,224.9 L1003.7,224.9 L1002.2,225.0 L1000.7,225.2 L999.2,225.7 L997.7,226.3 L996.2,227.1 L994.7,227.9 L993.2,228.9 L991.7,229.9 L990.2,231.0 L988.7,231.9 L987.2,232.8 L985.7,233.6 L984.2,234.1 L982.7,234.5 L981.2,234.6 L979.7,234.4 L978.2,234.0 L976.7,233.3 L975.2,232.4 L973.7,231.4 L972.2,230.1 L970.7,228.7 L969.2,227.1 L967.7,225.3 L966.2,223.5 L964.7,221.5 L963.2,219.5 L961.7,217.3 L960.2,215.1 L958.7,212.7 L957.2,210.2 L955.7,207.6 L954.2,204.9 L952.7,202.0 L951.2,199.1 L949.7,196.0 L948.2,192.8 L946.7,189.4 L945.2,185.9 L943.7,182.3 L942.2,178.6 L940.7,174.7 L939.2,170.7 L937.7,166.7 L936.2,162.8 L934.7,158.9 L933.2,155.2 L931.7,151.8 L930.2,148.6 L928.7,145.8 L927.2,143.4 L925.7,141.5 L924.2,140.1 L922.7,139.3 L921.2,139.2 L919.7,139.9 L918.2,141.3 L916.7,143.6 L915.2,146.6 L913.7,150.4 L912.2,154.7 L910.7,159.5 L909.2,164.8 L907.7,170.3 L906.2,176.0 L904.7,181.9 L903.2,188.3 L901.7,195.5 L900.2,204.0 L898.7,214.0 L897.2,224.3 L895.7,233.2 L894.2,240.3 L892.7,247.3 L891.2,256.6 L889.7,268.7 L888.2,282.7 L886.7,297.8 L885.2,313.0 L883.7,328.0 L882.2,342.9 L880.7,358.0 L879.2,373.2 L877.7,388.8 L876.2,405.0Z" fill="#cccccc"/>
<path d="M875.6,319.0 L877.1,308.1 L878.6,298.5 L880.1,289.5 L881.6,280.5 L883.1,271.0 L884.6,260.3 L886.1,248.2 L887.6,235.9 L889.1,224.4 L890.6,212.6 L892.1,200.3 L893.6,188.5 L895.1,178.1 L896.6,169.2 L898.1,161.2 L899.6,153.5 L901.1,145.9 L902.7,138.4 L904.2,131.3 L905.7,124.7 L907.2,118.7 L908.7,113.4 L910.2,108.9 L911.7,105.3 L913.2,102.5 L914.7,100.3 L916.2,98.8 L917.7,97.9 L919.2,97.5 L920.7,97.5 L922.2,97.8 L923.7,98.5 L925.2,99.5 L926.7,100.9 L928.2,102.6 L929.7,104.6 L931.2,106.9 L932.7,109.5 L934.2,112.4 L935.7,115.7 L937.2,119.2 L938.7,122.9 L940.2,126.9 L941.7,131.0 L943.2,135.2 L944.7,139.6 L946.2,144.0 L947.7,148.5 L949.2,152.9 L950.7,157.3 L952.2,161.6 L953.8,165.8 L955.3,169.8 L956.8,173.6 L958.3,177.3 L959.8,180.8 L961.3,184.1 L962.8,187.1 L964.3,189.9 L965.8,192.5 L967.3,194.8 L968.8,196.8 L970.3,198.6 L971.8,200.0 L973.3,201.2 L974.8,202.2 L976.3,202.9 L977.8,203.4 L979.3,203.7 L980.8,203.9 L982.3,204.0 L983.8,203.9 L985.3,203.7 L986.8,203.5 L988.3,203.2 L989.8,202.9 L991.3,202.5 L992.8,202.2 L994.3,201.9 L995.8,201.6 L997.3,201.3 L998.8,201.0 L1000.3,200.7 L1001.8,200.4 L1003.3,200.2 L1004.9,200.0 L1006.4,199.9 L1007.9,199.7 L1009.4,199.7 L1010.9,199.6 L1012.4,199.7 L1013.9,199.7 L1015.4,199.9 L1016.9,200.0 L1018.4,200.3 L1019.9,200.6 L1021.4,201.0 L1022.9,201.5 L1024.4,202.0 L1025.9,202.7 L1027.4,203.4 L1028.9,204.1 L1030.4,204.9 L1031.9,205.8 L1033.4,206.6 L1034.9,207.6 L1036.4,208.5 L1037.9,209.5 L1039.4,210.6 L1040.9,211.6 L1042.4,212.6 L1043.9,213.7 L1045.4,214.8 L1046.9,215.8 L1048.4,216.9 L1049.9,217.9 L1051.4,218.9 L1052.9,219.9 L1054.4,220.9 L1056.0,221.8 L1057.5,222.7 L1059.0,223.5 L1060.5,224.3 L1062.0,225.0 L1063.5,225.7 L1065.0,226.3 L1066.5,226.8 L1068.0,227.3 L1069.5,227.7 L1071.0,228.0 L1072.5,228.2 L1074.0,228.3 L1075.5,228.3 L1077.0,228.2 L1078.5,227.9 L1080.0,227.6 L1081.5,227.1 L1083.0,226.5 L1084.5,225.8 L1086.0,224.9 L1087.5,223.9 L1089.0,222.8 L1090.5,221.4 L1092.0,220.0 L1093.5,218.3 L1095.0,216.5 L1096.5,214.6 L1098.0,212.6 L1099.5,210.5 L1101.0,208.3 L1102.5,206.0 L1104.0,203.7 L1105.5,201.4 L1107.1,199.1 L1108.6,196.9 L1110.1,194.6 L1111.6,192.4 L1113.1,190.3 L1114.6,188.3 L1116.1,186.4 L1117.6,184.5 L1119.1,182.7 L1120.6,180.9 L1122.1,179.3 L1123.6,177.7 L1125.1,176.1 L1126.6,174.7 L1128.1,173.2 L1129.6,171.9 L1131.1,170.6 L1132.6,169.3 L1134.1,168.1 L1135.6,167.0 L1137.1,165.9 L1138.6,164.9 L1140.1,163.9 L1141.6,163.0 L1143.1,162.2 L1144.6,161.5 L1146.1,160.8 L1147.6,160.3 L1149.1,159.8 L1150.6,159.5 L1152.1,159.2 L1153.6,159.0 L1155.1,159.0 L1156.6,159.0 L1158.2,159.2 L1159.7,159.4 L1161.2,159.8 L1162.7,160.2 L1164.2,160.8 L1165.7,161.4 L1167.2,162.2 L1168.7,163.0 L1170.2,163.8 L1171.7,164.8 L1173.2,165.8 L1174.7,166.9 L1176.2,168.1 L1177.7,169.3 L1179.2,170.6 L1180.7,171.9 L1182.2,173.3 L1183.7,174.7 L1185.2,176.1 L1186.7,177.7 L1188.2,179.2 L1189.7,180.8 L1191.2,182.4 L1192.7,184.1 L1194.2,185.8 L1195.7,187.5 L1197.2,189.3 L1198.7,191.1 L1200.2,192.9 L1201.7,194.7 L1203.2,196.6 L1204.7,198.5 L1206.2,200.4 L1207.7,202.3 L1209.3,204.2 L1210.8,206.1 L1212.3,208.1 L1213.8,210.0 L1215.3,212.0 L1216.8,214.0 L1218.3,215.9 L1219.8,217.9 L1221.3,219.8 L1222.8,221.8 L1224.3,223.7 L1225.8,225.7 L1227.3,227.6 L1228.8,229.5 L1230.3,231.4 L1231.8,233.3 L1233.3,235.1 L1234.8,237.0 L1236.3,238.8 L1237.8,240.6 L1239.3,242.3 L1240.8,244.1 L1242.3,245.8 L1243.8,247.5 L1245.3,249.1 L1246.8,250.7 L1248.3,252.2 L1249.8,253.8 L1251.3,255.2 L1252.8,256.6 L1254.3,258.0 L1255.8,259.4 L1257.3,260.6 L1258.8,261.9 L1260.4,263.0 L1261.9,264.1 L1263.4,265.2 L1264.9,266.2 L1266.4,267.1 L1267.9,267.9 L1269.4,268.8 L1270.9,269.5 L1272.4,270.2 L1273.9,270.8 L1275.4,271.4 L1276.9,271.9 L1278.4,272.4 L1279.9,272.8 L1281.4,273.2 L1282.9,273.5 L1284.4,273.7 L1285.9,274.0 L1287.4,274.1 L1288.9,274.3 L1290.4,274.3 L1291.9,274.4 L1293.4,274.4 L1294.9,274.3 L1296.4,274.3 L1297.9,274.1 L1299.4,274.0 L1300.9,273.8 L1302.4,273.6 L1303.9,273.3 L1305.4,273.0 L1306.9,272.7 L1308.4,272.3 L1309.9,271.9 L1311.5,271.5 L1313.0,271.0 L1314.5,270.6 L1316.0,270.1 L1317.5,269.6 L1319.0,269.0 L1320.5,268.5 L1322.0,267.9 L1323.5,267.3 L1325.0,266.7 L1326.5,266.0 L1328.0,265.4 L1329.5,264.8 L1331.0,264.1 L1332.5,263.4 L1334.0,262.8 L1335.5,262.1 L1337.0,261.5 L1338.5,260.8 L1340.0,260.2 L1341.5,259.5 L1343.0,258.9 L1344.5,258.3 L1346.0,257.7 L1347.5,257.1 L1349.0,256.6 L1350.5,256.0 L1352.0,255.5 L1353.5,255.0 L1355.0,254.5 L1356.5,254.1 L1358.0,253.7 L1359.5,253.3 L1361.0,252.9 L1362.6,252.6 L1364.1,252.3 L1365.6,252.1 L1367.1,251.9 L1368.6,251.7 L1370.1,251.6 L1371.6,251.5 L1373.1,251.5 L1374.6,251.5 L1376.1,251.5 L1377.6,251.6 L1379.1,251.7 L1380.6,251.9 L1382.1,252.1 L1383.6,252.4 L1385.1,252.7 L1386.6,253.1 L1388.1,253.5 L1389.6,254.0 L1391.1,254.5 L1392.6,255.1 L1394.1,255.7 L1395.6,256.3 L1397.1,257.1 L1398.6,257.9 L1400.1,258.7 L1401.6,259.6 L1403.1,260.5 L1404.6,261.5 L1406.1,262.6 L1407.6,263.7 L1409.1,264.9 L1410.6,266.2 L1412.1,267.5 L1413.7,268.8 L1415.2,270.3 L1416.7,271.8 L1418.2,273.3 L1419.7,274.9 L1421.2,276.5 L1422.7,278.1 L1424.2,279.8 L1425.7,281.5 L1427.2,283.2 L1428.7,284.9 L1430.2,286.7 L1431.7,288.4 L1433.2,290.1 L1434.7,291.8 L1436.2,293.5 L1437.7,295.2 L1439.2,296.8" fill="none" stroke="#000" stroke-width="4.5" stroke-linejoin="round" stroke-linecap="butt"/>
<path d="M873.9,405.9H877.6V421.3H873.9ZM881.4,405.9H912.6V421.3H881.4ZM913.9,405.9H918.6V421.3H913.9ZM919.4,405.9H928.6V421.3H919.4ZM935.4,405.9H942.6V421.3H935.4ZM943.4,405.9H954.6V421.3H943.4ZM959.4,405.9H968.6V421.3H959.4ZM973.4,405.9H978.6V421.3H973.4ZM994.4,405.9H1006.6V421.3H994.4ZM1016.9,405.9H1020.6V421.3H1016.9ZM1024.3,405.9H1029.7V421.3H1024.3ZM1066.1,405.9H1070.0V421.3H1066.1ZM1082.5,405.9H1086.4V421.3H1082.5ZM1096.1,405.9H1100.0V421.3H1096.1ZM1116.1,405.9H1120.0V421.3H1116.1ZM1121.6,405.9H1125.5V421.3H1121.6ZM1126.5,405.9H1130.4V421.3H1126.5ZM1140.8,405.9H1144.7V421.3H1140.8ZM1251.8,405.9H1255.7V421.3H1251.8ZM1281.8,405.9H1285.7V421.3H1281.8ZM1399.3,405.9H1403.2V421.3H1399.3ZM1436.8,405.9H1440.7V421.3H1436.8Z" fill="#000"/>
<rect x="854.0" y="38.3" width="609.2" height="380.7" fill="none" stroke="#000" stroke-width="3.0"/>
<path d="M854.0,66.9h-20.0M854.0,118.0h-20.0M854.0,170.5h-20.0M854.0,222.4h-20.0M854.0,273.2h-20.0M854.0,325.4h-20.0M854.0,377.4h-20.0M857.2,419.0v20.0M999.6,419.0v20.0M1142.5,419.0v20.0M1285.8,419.0v20.0M1429.0,419.0v20.0" fill="none" stroke="#000" stroke-width="2.8"/>
<text class="tl ty" text-anchor="middle" transform="translate(811.5,66.9) rotate(-90) scale(0.95,1)">3</text>
<text class="tl ty" text-anchor="middle" transform="translate(811.5,118.0) rotate(-90) scale(0.95,1)">2</text>
<text class="tl ty" text-anchor="middle" transform="translate(811.5,170.5) rotate(-90) scale(0.95,1)">1</text>
<text class="tl ty" text-anchor="middle" transform="translate(811.5,222.4) rotate(-90) scale(0.95,1)">0</text>
<text class="tl ty" text-anchor="middle" transform="translate(811.5,273.2) rotate(-90) scale(0.95,1)">-1</text>
<text class="tl ty" text-anchor="middle" transform="translate(811.5,377.4) rotate(-90) scale(0.95,1)">-3</text>
<text class="tl" text-anchor="middle" transform="translate(857.2,489.9) scale(0.95,1)">0</text>
<text class="tl" text-anchor="middle" transform="translate(999.6,489.9) scale(0.95,1)">20</text>
<text class="tl" text-anchor="middle" transform="translate(1142.5,489.9) scale(0.95,1)">40</text>
<text class="tl" text-anchor="middle" transform="translate(1285.8,489.9) scale(0.95,1)">60</text>
<text class="tl" text-anchor="middle" transform="translate(1429.0,489.9) scale(0.95,1)">80</text>
</g>
<g>
<path d="M142.8,642.2 L144.3,649.5 L145.8,656.6 L147.3,663.5 L148.8,670.3 L150.3,676.9 L151.8,683.3 L153.3,689.5 L154.8,695.5 L156.3,701.4 L157.8,706.9 L159.3,712.3 L160.8,717.4 L162.3,722.3 L163.8,727.0 L165.3,731.3 L166.8,735.4 L168.3,739.3 L169.8,742.8 L171.3,746.1 L172.8,749.2 L174.4,752.0 L175.9,754.6 L177.4,756.9 L178.9,759.0 L180.4,760.8 L181.9,762.5 L183.4,763.9 L184.9,765.2 L186.4,766.2 L187.9,767.0 L189.4,767.7 L190.9,768.1 L192.4,768.4 L193.9,768.5 L195.4,768.4 L196.9,768.2 L198.4,767.9 L199.9,767.5 L201.4,766.9 L202.9,766.3 L204.4,765.5 L205.9,764.7 L207.4,763.8 L208.9,762.9 L210.4,761.9 L211.9,760.9 L213.4,759.9 L214.9,758.9 L216.4,757.8 L217.9,756.8 L219.4,755.8 L220.9,754.9 L222.4,753.9 L223.9,753.1 L225.4,752.3 L226.9,751.6 L228.4,751.0 L229.9,750.5 L231.4,750.1 L232.9,749.8 L234.4,749.7 L235.9,749.7 L237.5,749.7 L239.0,749.9 L240.5,750.1 L242.0,750.4 L243.5,750.7 L245.0,751.0 L246.5,751.4 L248.0,751.8 L249.5,752.1 L251.0,752.5 L252.5,752.8 L254.0,753.1 L255.5,753.3 L257.0,753.4 L258.5,753.4 L260.0,753.4 L261.5,753.2 L263.0,753.0 L264.5,752.5 L266.0,752.0 L267.5,751.2 L269.0,750.3 L270.5,749.2 L272.0,748.0 L273.5,746.6 L275.0,745.0 L276.5,743.3 L278.0,741.5 L279.5,739.5 L281.0,737.4 L282.5,735.3 L284.0,733.0 L285.5,730.6 L287.0,728.2 L288.5,725.6 L290.0,723.0 L291.5,720.4 L293.0,717.7 L294.5,714.9 L296.0,712.1 L297.5,709.3 L299.0,706.5 L300.6,703.7 L302.1,700.8 L303.6,698.0 L305.1,695.2 L306.6,692.4 L308.1,689.6 L309.6,686.7 L311.1,683.8 L312.6,680.7 L314.1,677.6 L315.6,674.3 L317.1,670.8 L318.6,667.1 L320.1,663.2 L321.6,659.1 L323.1,654.7 L324.6,650.1 L326.1,645.1 L327.6,640.0 L329.1,634.9 L330.6,629.8 L332.1,624.8 L333.6,620.1 L335.1,615.6 L336.6,611.3 L338.1,607.3 L339.6,603.5 L341.1,600.0 L342.6,596.7 L344.1,593.6 L345.6,590.8 L347.1,588.3 L348.6,585.9 L350.1,583.9 L351.6,582.0 L353.1,580.5 L354.6,579.1 L356.1,578.0 L357.6,577.2 L359.1,576.6 L360.6,576.3 L362.2,576.2 L363.7,576.3 L365.2,576.7 L366.7,577.4 L368.2,578.2 L369.7,579.3 L371.2,580.6 L372.7,582.2 L374.2,583.9 L375.7,585.9 L377.2,588.0 L378.7,590.4 L380.2,592.9 L381.7,595.7 L383.2,598.6 L384.7,601.6 L386.2,604.9 L387.7,608.3 L389.2,611.8 L390.7,615.5 L392.2,619.4 L393.7,623.3 L395.2,627.3 L396.7,631.4 L398.2,635.7 L399.7,639.9 L401.2,644.3 L402.7,648.7 L404.2,653.1 L405.7,657.6 L407.2,662.1 L408.7,666.6 L410.2,671.1 L411.7,675.6 L413.2,680.1 L414.7,684.5 L416.2,688.9 L417.7,693.2 L419.2,697.4 L420.7,701.5 L422.2,705.4 L423.7,709.1 L425.3,712.6 L426.8,715.9 L428.3,718.9 L429.8,721.6 L431.3,724.0 L432.8,726.1 L434.3,727.8 L435.8,729.1 L437.3,730.0 L438.8,730.5 L440.3,730.5 L441.8,730.1 L443.3,729.3 L444.8,728.2 L446.3,726.9 L447.8,725.4 L449.3,723.8 L450.8,722.2 L452.3,720.5 L453.8,718.9 L455.3,717.4 L456.8,716.1 L458.3,715.0 L459.8,714.3 L461.3,713.7 L462.8,713.4 L464.3,713.4 L465.8,713.5 L467.3,713.8 L468.8,714.3 L470.3,714.9 L471.8,715.7 L473.3,716.6 L474.8,717.5 L476.3,718.6 L477.8,719.7 L479.3,720.9 L480.8,722.1 L482.3,723.3 L483.8,724.5 L485.3,725.7 L486.8,726.8 L488.4,727.8 L489.9,728.8 L491.4,729.6 L492.9,730.3 L494.4,730.9 L495.9,731.3 L497.4,731.5 L498.9,731.5 L500.4,731.3 L501.9,730.9 L503.4,730.2 L504.9,729.2 L506.4,727.9 L507.9,726.3 L509.4,724.4 L510.9,722.1 L512.4,719.6 L513.9,716.9 L515.4,714.1 L516.9,711.2 L518.4,708.4 L519.9,705.7 L521.4,703.0 L522.9,700.5 L524.4,698.0 L525.9,695.5 L527.4,693.1 L528.9,690.7 L530.4,688.3 L531.9,685.9 L533.4,683.6 L534.9,681.2 L536.4,678.9 L537.9,676.5 L539.4,674.3 L540.9,672.0 L542.4,669.9 L543.9,667.7 L545.4,665.7 L546.9,663.7 L548.4,661.8 L550.0,660.0 L551.5,658.3 L553.0,656.7 L554.5,655.2 L556.0,653.9 L557.5,652.6 L559.0,651.5 L560.5,650.5 L562.0,649.5 L563.5,648.7 L565.0,647.9 L566.5,647.3 L568.0,646.6 L569.5,646.1 L571.0,645.5 L572.5,645.0 L574.0,644.6 L575.5,644.1 L577.0,643.7 L578.5,643.3 L580.0,642.8 L581.5,642.3 L583.0,641.9 L584.5,641.3 L586.0,640.8 L587.5,640.1 L589.0,639.4 L590.5,638.7 L592.0,637.9 L593.5,637.0 L595.0,636.0 L596.5,635.1 L598.0,634.0 L599.5,632.9 L601.0,631.7 L602.5,630.5 L604.0,629.3 L605.5,628.0 L607.0,626.7 L608.5,625.3 L610.0,623.9 L611.5,622.5 L613.1,621.1 L614.6,619.6 L616.1,618.2 L617.6,616.8 L619.1,615.3 L620.6,613.9 L622.1,612.5 L623.6,611.2 L625.1,609.8 L626.6,608.6 L628.1,607.3 L629.6,606.1 L631.1,605.0 L632.6,604.0 L634.1,603.0 L635.6,602.1 L637.1,601.2 L638.6,600.5 L640.1,599.8 L641.6,599.3 L643.1,598.8 L644.6,598.3 L646.1,597.9 L647.6,597.6 L649.1,597.3 L650.6,597.0 L652.1,596.8 L653.6,596.6 L655.1,596.4 L656.6,596.2 L658.1,596.0 L659.6,595.8 L661.1,595.6 L662.6,595.3 L664.1,595.0 L665.6,594.7 L667.1,594.4 L668.6,594.0 L670.1,593.5 L671.6,593.0 L673.1,592.4 L674.6,591.7 L676.2,591.0 L677.7,590.2 L679.2,589.4 L680.7,588.4 L682.2,587.5 L683.7,586.4 L685.2,585.3 L686.7,584.1 L688.2,582.8 L689.7,581.5 L691.2,580.1 L692.7,578.6 L694.2,577.0 L695.7,575.4 L697.2,573.7 L698.7,572.0 L700.2,570.1 L701.7,568.2 L703.2,566.3 L704.7,564.2 L706.2,562.1 L706.2,665.0 L704.7,663.8 L703.2,662.8 L701.7,662.0 L700.2,661.2 L698.7,660.6 L697.2,660.1 L695.7,659.7 L694.2,659.5 L692.7,659.4 L691.2,659.3 L689.7,659.4 L688.2,659.6 L686.7,659.9 L685.2,660.2 L683.7,660.7 L682.2,661.2 L680.7,661.8 L679.2,662.5 L677.7,663.2 L676.2,664.0 L674.7,664.9 L673.2,665.8 L671.7,666.8 L670.2,667.8 L668.7,668.9 L667.2,670.0 L665.6,671.2 L664.1,672.4 L662.6,673.6 L661.1,674.9 L659.6,676.3 L658.1,677.6 L656.6,679.0 L655.1,680.4 L653.6,681.9 L652.1,683.3 L650.6,684.8 L649.1,686.4 L647.6,687.9 L646.1,689.4 L644.6,691.0 L643.1,692.6 L641.6,694.2 L640.1,695.8 L638.6,697.4 L637.1,699.0 L635.6,700.6 L634.1,702.2 L632.6,703.8 L631.1,705.4 L629.6,707.0 L628.1,708.5 L626.6,710.1 L625.1,711.7 L623.6,713.2 L622.1,714.7 L620.6,716.2 L619.1,717.7 L617.6,719.1 L616.1,720.6 L614.6,722.0 L613.1,723.4 L611.6,724.9 L610.1,726.3 L608.6,727.8 L607.1,729.4 L605.6,730.9 L604.1,732.6 L602.6,734.3 L601.1,736.1 L599.6,737.9 L598.1,739.9 L596.6,742.0 L595.1,744.2 L593.6,746.4 L592.1,748.8 L590.6,751.2 L589.1,753.8 L587.6,756.3 L586.1,759.0 L584.5,761.6 L583.0,764.4 L581.5,767.1 L580.0,769.9 L578.5,772.7 L577.0,775.4 L575.5,778.2 L574.0,781.0 L572.5,783.8 L571.0,786.5 L569.5,789.2 L568.0,791.9 L566.5,794.5 L565.0,797.1 L563.5,799.6 L562.0,802.1 L560.5,804.5 L559.0,806.8 L557.5,809.0 L556.0,811.1 L554.5,813.1 L553.0,815.0 L551.5,816.7 L550.0,818.4 L548.5,819.9 L547.0,821.2 L545.5,822.5 L544.0,823.5 L542.5,824.4 L541.0,825.2 L539.5,825.7 L538.0,826.1 L536.5,826.4 L535.0,826.5 L533.5,826.5 L532.0,826.3 L530.5,826.0 L529.0,825.6 L527.5,825.0 L526.0,824.3 L524.5,823.5 L523.0,822.5 L521.5,821.4 L520.0,820.2 L518.5,819.0 L517.0,817.7 L515.5,816.5 L514.0,815.2 L512.5,814.0 L511.0,812.8 L509.5,811.8 L508.0,810.9 L506.5,810.2 L504.9,809.6 L503.4,809.3 L501.9,809.1 L500.4,809.2 L498.9,809.5 L497.4,809.9 L495.9,810.4 L494.4,811.1 L492.9,811.9 L491.4,812.8 L489.9,813.7 L488.4,814.7 L486.9,815.7 L485.4,816.7 L483.9,817.7 L482.4,818.6 L480.9,819.5 L479.4,820.3 L477.9,821.0 L476.4,821.5 L474.9,821.9 L473.4,822.0 L471.9,822.0 L470.4,821.6 L468.9,821.0 L467.4,820.1 L465.9,818.9 L464.4,817.5 L462.9,815.8 L461.4,813.9 L459.9,811.9 L458.4,809.7 L456.9,807.3 L455.4,804.8 L453.9,802.2 L452.4,799.6 L450.9,796.9 L449.4,794.2 L447.9,791.4 L446.4,788.7 L444.9,786.0 L443.4,783.4 L441.9,780.8 L440.4,778.3 L438.9,775.8 L437.4,773.5 L435.9,771.3 L434.4,769.2 L432.9,767.3 L431.4,765.6 L429.9,764.0 L428.4,762.6 L426.9,761.4 L425.4,760.4 L423.8,759.7 L422.3,759.1 L420.8,758.8 L419.3,758.5 L417.8,758.3 L416.3,758.2 L414.8,758.0 L413.3,757.8 L411.8,757.5 L410.3,757.0 L408.8,756.5 L407.3,755.8 L405.8,755.0 L404.3,754.1 L402.8,753.0 L401.3,751.8 L399.8,750.4 L398.3,748.9 L396.8,747.2 L395.3,745.5 L393.8,743.7 L392.3,741.9 L390.8,740.0 L389.3,738.2 L387.8,736.3 L386.3,734.4 L384.8,732.5 L383.3,730.6 L381.8,728.8 L380.3,726.9 L378.8,725.0 L377.3,723.2 L375.8,721.4 L374.3,719.6 L372.8,717.8 L371.3,716.1 L369.8,714.4 L368.3,712.8 L366.8,711.2 L365.3,709.7 L363.8,708.3 L362.3,707.0 L360.8,705.8 L359.3,704.7 L357.8,703.6 L356.3,702.8 L354.8,702.0 L353.3,701.4 L351.8,700.9 L350.3,700.6 L348.8,700.4 L347.3,700.4 L345.8,700.5 L344.3,700.9 L342.7,701.4 L341.2,702.1 L339.7,703.1 L338.2,704.2 L336.7,705.6 L335.2,707.1 L333.7,708.8 L332.2,710.7 L330.7,712.9 L329.2,715.1 L327.7,717.6 L326.2,720.2 L324.7,722.9 L323.2,725.9 L321.7,728.9 L320.2,732.1 L318.7,735.5 L317.2,738.9 L315.7,742.5 L314.2,746.2 L312.7,750.0 L311.2,753.9 L309.7,757.8 L308.2,761.9 L306.7,766.1 L305.2,770.4 L303.7,774.7 L302.2,779.1 L300.7,783.6 L299.2,788.1 L297.7,792.7 L296.2,797.2 L294.7,801.7 L293.2,806.1 L291.7,810.5 L290.2,814.7 L288.7,818.8 L287.2,822.6 L285.7,826.3 L284.2,829.8 L282.7,833.0 L281.2,835.9 L279.7,838.5 L278.2,840.9 L276.7,842.8 L275.2,844.5 L273.7,845.9 L272.2,847.0 L270.7,847.9 L269.2,848.6 L267.7,849.1 L266.2,849.5 L264.7,849.8 L263.1,850.0 L261.6,850.2 L260.1,850.4 L258.6,850.6 L257.1,850.8 L255.6,851.2 L254.1,851.5 L252.6,852.0 L251.1,852.5 L249.6,853.2 L248.1,853.8 L246.6,854.6 L245.1,855.5 L243.6,856.4 L242.1,857.4 L240.6,858.5 L239.1,859.7 L237.6,861.0 L236.1,862.4 L234.6,863.9 L233.1,865.5 L231.6,867.2 L230.1,869.0 L228.6,870.9 L227.1,872.9 L225.6,875.0 L224.1,877.3 L222.6,879.6 L221.1,882.0 L219.6,884.5 L218.1,887.1 L216.6,889.6 L215.1,892.2 L213.6,894.7 L212.1,897.2 L210.6,899.6 L209.1,901.8 L207.6,904.0 L206.1,906.0 L204.6,907.8 L203.1,909.4 L201.6,910.8 L200.1,912.0 L198.6,912.9 L197.1,913.4 L195.6,913.7 L194.1,913.6 L192.6,913.3 L191.1,912.6 L189.6,911.6 L188.1,910.3 L186.6,908.7 L185.1,906.8 L183.6,904.6 L182.0,902.0 L180.5,899.2 L179.0,896.0 L177.5,892.5 L176.0,888.8 L174.5,884.7 L173.0,880.2 L171.5,875.5 L170.0,870.6 L168.5,865.4 L167.0,860.0 L165.5,854.4 L164.0,848.7 L162.5,842.9 L161.0,837.0 L159.5,831.1 L158.0,825.1 L156.5,819.1 L155.0,813.2 L153.5,807.4 L152.0,801.7 L150.5,796.1 L149.0,790.7 L147.5,785.5 L146.0,780.5 L144.5,775.7 L143.0,771.3Z" fill="#cccccc"/>
<path d="M142.6,706.0 L144.1,708.2 L145.6,712.6 L147.1,718.7 L148.6,725.6 L150.1,732.9 L151.6,739.9 L153.1,746.2 L154.6,752.0 L156.1,757.6 L157.6,763.0 L159.1,768.4 L160.6,774.1 L162.1,780.0 L163.6,785.9 L165.1,791.6 L166.6,796.7 L168.1,801.2 L169.6,805.3 L171.1,809.1 L172.6,812.7 L174.1,816.2 L175.6,819.7 L177.1,823.0 L178.6,826.1 L180.1,829.0 L181.6,831.6 L183.2,834.0 L184.7,835.9 L186.2,837.6 L187.7,838.9 L189.2,839.8 L190.7,840.5 L192.2,840.9 L193.7,841.0 L195.2,840.9 L196.7,840.5 L198.2,840.0 L199.7,839.2 L201.2,838.3 L202.7,837.2 L204.2,836.0 L205.7,834.7 L207.2,833.2 L208.7,831.7 L210.2,830.1 L211.7,828.5 L213.2,826.9 L214.7,825.2 L216.2,823.6 L217.7,821.9 L219.2,820.3 L220.7,818.7 L222.2,817.2 L223.7,815.7 L225.2,814.2 L226.7,812.8 L228.2,811.5 L229.7,810.2 L231.2,809.1 L232.7,808.0 L234.2,807.1 L235.7,806.2 L237.2,805.5 L238.7,804.9 L240.2,804.3 L241.7,803.9 L243.2,803.5 L244.7,803.2 L246.2,803.0 L247.7,802.8 L249.2,802.6 L250.7,802.5 L252.2,802.4 L253.7,802.2 L255.2,802.1 L256.7,801.9 L258.2,801.8 L259.7,801.5 L261.2,801.2 L262.7,800.9 L264.3,800.4 L265.8,799.9 L267.3,799.3 L268.8,798.5 L270.3,797.7 L271.8,796.7 L273.3,795.6 L274.8,794.3 L276.3,792.9 L277.8,791.2 L279.3,789.4 L280.8,787.3 L282.3,785.0 L283.8,782.4 L285.3,779.5 L286.8,776.5 L288.3,773.3 L289.8,770.0 L291.3,766.6 L292.8,763.2 L294.3,759.8 L295.8,756.4 L297.3,753.1 L298.8,749.8 L300.3,746.7 L301.8,743.6 L303.3,740.5 L304.8,737.3 L306.3,734.0 L307.8,730.4 L309.3,726.5 L310.8,722.3 L312.3,718.1 L313.8,714.0 L315.3,710.2 L316.8,706.5 L318.3,702.8 L319.8,699.0 L321.3,694.9 L322.8,690.7 L324.3,686.3 L325.8,681.9 L327.3,677.5 L328.8,673.3 L330.3,669.3 L331.8,665.6 L333.3,662.3 L334.8,659.3 L336.3,656.7 L337.8,654.4 L339.3,652.3 L340.8,650.4 L342.3,648.7 L343.8,647.2 L345.4,645.8 L346.9,644.6 L348.4,643.5 L349.9,642.7 L351.4,641.9 L352.9,641.4 L354.4,641.0 L355.9,640.7 L357.4,640.6 L358.9,640.6 L360.4,640.8 L361.9,641.1 L363.4,641.6 L364.9,642.2 L366.4,643.0 L367.9,643.9 L369.4,644.9 L370.9,646.1 L372.4,647.4 L373.9,648.8 L375.4,650.4 L376.9,652.1 L378.4,653.9 L379.9,655.9 L381.4,658.0 L382.9,660.2 L384.4,662.6 L385.9,665.1 L387.4,667.7 L388.9,670.5 L390.4,673.4 L391.9,676.5 L393.4,679.6 L394.9,682.9 L396.4,686.2 L397.9,689.5 L399.4,692.9 L400.9,696.3 L402.4,699.7 L403.9,703.1 L405.4,706.4 L406.9,709.6 L408.4,712.7 L409.9,715.8 L411.4,718.7 L412.9,721.4 L414.4,724.1 L415.9,726.7 L417.4,729.1 L418.9,731.4 L420.4,733.7 L421.9,735.8 L423.4,737.9 L424.9,739.8 L426.5,741.7 L428.0,743.5 L429.5,745.1 L431.0,746.7 L432.5,748.3 L434.0,749.7 L435.5,751.1 L437.0,752.4 L438.5,753.6 L440.0,754.8 L441.5,755.9 L443.0,757.0 L444.5,758.0 L446.0,758.9 L447.5,759.8 L449.0,760.7 L450.5,761.5 L452.0,762.2 L453.5,762.9 L455.0,763.6 L456.5,764.2 L458.0,764.9 L459.5,765.4 L461.0,766.0 L462.5,766.5 L464.0,767.1 L465.5,767.5 L467.0,768.0 L468.5,768.4 L470.0,768.8 L471.5,769.2 L473.0,769.5 L474.5,769.8 L476.0,770.1 L477.5,770.4 L479.0,770.6 L480.5,770.8 L482.0,770.9 L483.5,771.0 L485.0,771.1 L486.5,771.1 L488.0,771.1 L489.5,771.1 L491.0,771.0 L492.5,770.9 L494.0,770.7 L495.5,770.5 L497.0,770.3 L498.5,770.0 L500.0,769.7 L501.5,769.3 L503.0,768.9 L504.5,768.4 L506.1,767.9 L507.6,767.4 L509.1,766.8 L510.6,766.2 L512.1,765.5 L513.6,764.8 L515.1,764.0 L516.6,763.2 L518.1,762.4 L519.6,761.6 L521.1,760.7 L522.6,759.7 L524.1,758.8 L525.6,757.8 L527.1,756.7 L528.6,755.7 L530.1,754.6 L531.6,753.5 L533.1,752.3 L534.6,751.1 L536.1,749.9 L537.6,748.7 L539.1,747.4 L540.6,746.2 L542.1,744.9 L543.6,743.5 L545.1,742.2 L546.6,740.8 L548.1,739.4 L549.6,738.0 L551.1,736.6 L552.6,735.1 L554.1,733.7 L555.6,732.2 L557.1,730.7 L558.6,729.2 L560.1,727.7 L561.6,726.1 L563.1,724.6 L564.6,723.0 L566.1,721.5 L567.6,719.9 L569.1,718.3 L570.6,716.7 L572.1,715.1 L573.6,713.5 L575.1,711.9 L576.6,710.3 L578.1,708.7 L579.6,707.1 L581.1,705.4 L582.6,703.8 L584.1,702.2 L585.6,700.6 L587.2,698.9 L588.7,697.3 L590.2,695.7 L591.7,694.1 L593.2,692.5 L594.7,690.9 L596.2,689.3 L597.7,687.7 L599.2,686.1 L600.7,684.6 L602.2,683.0 L603.7,681.5 L605.2,679.9 L606.7,678.4 L608.2,676.9 L609.7,675.4 L611.2,673.9 L612.7,672.4 L614.2,670.9 L615.7,669.5 L617.2,668.0 L618.7,666.6 L620.2,665.2 L621.7,663.8 L623.2,662.4 L624.7,661.0 L626.2,659.7 L627.7,658.4 L629.2,657.0 L630.7,655.7 L632.2,654.5 L633.7,653.2 L635.2,652.0 L636.7,650.7 L638.2,649.5 L639.7,648.3 L641.2,647.2 L642.7,646.0 L644.2,644.9 L645.7,643.8 L647.2,642.7 L648.7,641.7 L650.2,640.7 L651.7,639.7 L653.2,638.7 L654.7,637.7 L656.2,636.8 L657.7,635.9 L659.2,635.0 L660.7,634.2 L662.2,633.3 L663.7,632.5 L665.2,631.7 L666.7,631.0 L668.3,630.2 L669.8,629.5 L671.3,628.8 L672.8,628.1 L674.3,627.4 L675.8,626.7 L677.3,626.1 L678.8,625.4 L680.3,624.8 L681.8,624.1 L683.3,623.5 L684.8,622.9 L686.3,622.2 L687.8,621.6 L689.3,621.0 L690.8,620.3 L692.3,619.7 L693.8,619.1 L695.3,618.4 L696.8,617.8 L698.3,617.1 L699.8,616.4 L701.3,615.7 L702.8,615.0 L704.3,614.3 L705.8,613.6 L707.3,612.9" fill="none" stroke="#000" stroke-width="4.5" stroke-linejoin="round" stroke-linecap="butt"/>
<path d="M140.8,914.3H147.7V929.0H140.8ZM149.3,914.3H153.7V929.0H149.3ZM156.3,914.3H166.7V929.0H156.3ZM168.3,914.3H177.7V929.0H168.3ZM179.3,914.3H183.2V929.0H179.3ZM184.3,914.3H198.7V929.0H184.3ZM200.3,914.3H205.7V929.0H200.3ZM208.3,914.3H212.7V929.0H208.3ZM221.2,914.3H225.0V929.0H221.2ZM229.3,914.3H249.7V929.0H229.3ZM258.7,914.3H262.4V929.0H258.7ZM271.8,914.3H280.6V929.0H271.8ZM305.6,914.3H309.4V929.0H305.6ZM323.6,914.3H327.4V929.0H323.6ZM335.4,914.3H343.6V929.0H335.4ZM355.4,914.3H359.2V929.0H355.4ZM380.6,914.3H384.4V929.0H380.6ZM409.2,914.3H422.1V929.0H409.2ZM472.6,914.3H476.4V929.0H472.6ZM516.0,914.3H519.9V929.0H516.0ZM527.6,914.3H531.4V929.0H527.6ZM580.6,914.3H584.4V929.0H580.6ZM614.9,914.3H618.8V929.0H614.9ZM699.6,914.3H708.2V929.0H699.6Z" fill="#000"/>
<rect x="121.7" y="546.9" width="607.4" height="380.5" fill="none" stroke="#000" stroke-width="3.0"/>
<path d="M121.7,558.8h-20.0M121.7,626.6h-20.0M121.7,694.3h-20.0M121.7,763.4h-20.0M121.7,831.3h-20.0M121.7,898.9h-20.0M250.5,927.4v20.0M396.3,927.4v20.0M539.6,927.4v20.0M685.3,927.4v20.0" fill="none" stroke="#000" stroke-width="2.8"/>
<text class="tl ty" text-anchor="middle" transform="translate(78.4,558.8) rotate(-90) scale(0.95,1)">2</text>
<text class="tl ty" text-anchor="middle" transform="translate(78.4,626.6) rotate(-90) scale(0.95,1)">1</text>
<text class="tl ty" text-anchor="middle" transform="translate(78.4,694.3) rotate(-90) scale(0.95,1)">0</text>
<text class="tl ty" text-anchor="middle" transform="translate(78.4,763.4) rotate(-90) scale(0.95,1)">-1</text>
<text class="tl ty" text-anchor="middle" transform="translate(78.4,831.3) rotate(-90) scale(0.95,1)">-2</text>
<text class="tl ty" text-anchor="middle" transform="translate(78.4,898.9) rotate(-90) scale(0.95,1)">-3</text>
<text class="tl" text-anchor="middle" transform="translate(249.1,997.3) scale(0.95,1)">50</text>
<text class="tl" text-anchor="middle" transform="translate(396.4,997.3) scale(0.95,1)">100</text>
<text class="tl" text-anchor="middle" transform="translate(539.3,997.3) scale(0.95,1)">150</text>
<text class="tl" text-anchor="middle" transform="translate(684.5,997.3) scale(0.95,1)">200</text>
</g>
<g>
<path d="M881.4,560.9 L882.9,565.1 L884.4,569.3 L885.9,573.4 L887.4,577.5 L888.9,581.6 L890.4,585.6 L891.9,589.5 L893.4,593.4 L894.9,597.3 L896.4,601.0 L897.9,604.8 L899.4,608.4 L900.9,612.0 L902.4,615.5 L903.9,618.9 L905.4,622.3 L906.9,625.6 L908.5,628.8 L910.0,631.9 L911.5,634.9 L913.0,637.8 L914.5,640.6 L916.0,643.4 L917.5,646.0 L919.0,648.5 L920.5,650.9 L922.0,653.2 L923.5,655.4 L925.0,657.5 L926.5,659.4 L928.0,661.3 L929.5,663.0 L931.0,664.5 L932.5,666.0 L934.0,667.3 L935.5,668.5 L937.0,669.5 L938.5,670.4 L940.0,671.1 L941.5,671.7 L943.0,672.1 L944.5,672.4 L946.0,672.5 L947.5,672.5 L949.0,672.3 L950.5,672.0 L952.0,671.5 L953.5,670.9 L955.0,670.1 L956.5,669.2 L958.0,668.1 L959.6,666.9 L961.1,665.6 L962.6,664.1 L964.1,662.5 L965.6,660.8 L967.1,658.9 L968.6,656.9 L970.1,654.8 L971.6,652.6 L973.1,650.2 L974.6,647.8 L976.1,645.2 L977.6,642.5 L979.1,639.7 L980.6,636.9 L982.1,634.0 L983.6,631.0 L985.1,628.1 L986.6,625.2 L988.1,622.3 L989.6,619.5 L991.1,616.8 L992.6,614.2 L994.1,611.7 L995.6,609.4 L997.1,607.2 L998.6,605.2 L1000.1,603.5 L1001.6,602.0 L1003.1,600.7 L1004.6,599.6 L1006.1,598.8 L1007.6,598.1 L1009.1,597.7 L1010.7,597.5 L1012.2,597.4 L1013.7,597.6 L1015.2,597.9 L1016.7,598.4 L1018.2,599.1 L1019.7,599.9 L1021.2,600.9 L1022.7,602.1 L1024.2,603.4 L1025.7,604.8 L1027.2,606.4 L1028.7,608.1 L1030.2,609.9 L1031.7,611.8 L1033.2,613.9 L1034.7,616.0 L1036.2,618.3 L1037.7,620.6 L1039.2,623.1 L1040.7,625.6 L1042.2,628.2 L1043.7,631.0 L1045.2,633.8 L1046.7,636.7 L1048.2,639.7 L1049.7,642.7 L1051.2,645.9 L1052.7,649.1 L1054.2,652.4 L1055.7,655.7 L1057.2,659.1 L1058.7,662.6 L1060.2,666.1 L1061.8,669.7 L1063.3,673.3 L1064.8,677.0 L1066.3,680.6 L1067.8,684.3 L1069.3,688.0 L1070.8,691.6 L1072.3,695.3 L1073.8,698.9 L1075.3,702.5 L1076.8,706.1 L1078.3,709.6 L1079.8,713.1 L1081.3,716.5 L1082.8,719.8 L1084.3,723.1 L1085.8,726.3 L1087.3,729.4 L1088.8,732.4 L1090.3,735.2 L1091.8,738.0 L1093.3,740.7 L1094.8,743.3 L1096.3,745.7 L1097.8,748.1 L1099.3,750.3 L1100.8,752.5 L1102.3,754.5 L1103.8,756.4 L1105.3,758.2 L1106.8,760.0 L1108.3,761.6 L1109.8,763.0 L1111.3,764.4 L1112.9,765.7 L1114.4,766.9 L1115.9,767.9 L1117.4,768.9 L1118.9,769.7 L1120.4,770.4 L1121.9,771.1 L1123.4,771.6 L1124.9,772.0 L1126.4,772.4 L1127.9,772.6 L1129.4,772.8 L1130.9,772.9 L1132.4,772.9 L1133.9,772.9 L1135.4,772.8 L1136.9,772.6 L1138.4,772.4 L1139.9,772.2 L1141.4,771.9 L1142.9,771.6 L1144.4,771.2 L1145.9,770.8 L1147.4,770.4 L1148.9,770.0 L1150.4,769.6 L1151.9,769.1 L1153.4,768.7 L1154.9,768.2 L1156.4,767.8 L1157.9,767.4 L1159.4,766.9 L1160.9,766.6 L1162.4,766.2 L1164.0,765.8 L1165.5,765.5 L1167.0,765.3 L1168.5,765.0 L1170.0,764.9 L1171.5,764.8 L1173.0,764.7 L1174.5,764.7 L1176.0,764.7 L1177.5,764.8 L1179.0,765.0 L1180.5,765.1 L1182.0,765.4 L1183.5,765.6 L1185.0,765.9 L1186.5,766.1 L1188.0,766.5 L1189.5,766.8 L1191.0,767.1 L1192.5,767.4 L1194.0,767.8 L1195.5,768.1 L1197.0,768.4 L1198.5,768.7 L1200.0,769.0 L1201.5,769.2 L1203.0,769.4 L1204.5,769.6 L1206.0,769.7 L1207.5,769.7 L1209.0,769.7 L1210.5,769.5 L1212.0,769.3 L1213.5,768.9 L1215.1,768.4 L1216.6,767.7 L1218.1,766.9 L1219.6,765.9 L1221.1,764.7 L1222.6,763.4 L1224.1,761.8 L1225.6,760.0 L1227.1,758.1 L1228.6,755.9 L1230.1,753.7 L1231.6,751.3 L1233.1,748.8 L1234.6,746.3 L1236.1,743.7 L1237.6,741.0 L1239.1,738.3 L1240.6,735.7 L1242.1,733.0 L1243.6,730.4 L1245.1,727.9 L1246.6,725.4 L1248.1,723.1 L1249.6,720.7 L1251.1,718.5 L1252.6,716.4 L1254.1,714.3 L1255.6,712.3 L1257.1,710.3 L1258.6,708.5 L1260.1,706.7 L1261.6,705.0 L1263.1,703.4 L1264.6,701.8 L1266.2,700.3 L1267.7,698.9 L1269.2,697.6 L1270.7,696.3 L1272.2,695.2 L1273.7,694.1 L1275.2,693.1 L1276.7,692.2 L1278.2,691.4 L1279.7,690.7 L1281.2,690.1 L1282.7,689.6 L1284.2,689.2 L1285.7,689.0 L1287.2,688.9 L1288.7,688.9 L1290.2,689.0 L1291.7,689.3 L1293.2,689.6 L1294.7,690.2 L1296.2,690.9 L1297.7,691.7 L1299.2,692.7 L1300.7,693.8 L1302.2,695.2 L1303.7,696.6 L1305.2,698.3 L1306.7,700.0 L1308.2,702.0 L1309.7,704.0 L1311.2,706.2 L1312.7,708.5 L1314.2,710.9 L1315.7,713.4 L1317.3,716.0 L1318.8,718.7 L1320.3,721.4 L1321.8,724.2 L1323.3,727.1 L1324.8,730.0 L1326.3,732.9 L1327.8,735.8 L1329.3,738.8 L1330.8,741.7 L1332.3,744.7 L1333.8,747.7 L1335.3,750.6 L1336.8,753.5 L1338.3,756.3 L1339.8,759.1 L1341.3,761.9 L1342.8,764.6 L1344.3,767.2 L1345.8,769.8 L1347.3,772.3 L1348.8,774.7 L1350.3,777.0 L1351.8,779.3 L1353.3,781.6 L1354.8,783.7 L1356.3,785.8 L1357.8,787.8 L1359.3,789.7 L1360.8,791.5 L1362.3,793.3 L1363.8,795.0 L1365.3,796.6 L1366.8,798.1 L1368.4,799.5 L1369.9,800.8 L1371.4,802.1 L1372.9,803.3 L1374.4,804.3 L1375.9,805.3 L1377.4,806.2 L1378.9,807.0 L1380.4,807.7 L1381.9,808.3 L1383.4,808.9 L1384.9,809.3 L1386.4,809.6 L1387.9,809.9 L1389.4,810.1 L1390.9,810.2 L1392.4,810.2 L1393.9,810.1 L1395.4,809.9 L1396.9,809.6 L1398.4,809.2 L1399.9,808.8 L1401.4,808.2 L1402.9,807.6 L1404.4,806.9 L1405.9,806.1 L1407.4,805.1 L1408.9,804.2 L1410.4,803.1 L1411.9,801.9 L1413.4,800.6 L1414.9,799.3 L1416.4,797.8 L1417.9,796.3 L1419.5,794.7 L1421.0,792.9 L1422.5,791.1 L1424.0,789.2 L1425.5,787.2 L1427.0,785.2 L1428.5,783.0 L1430.0,780.7 L1431.5,778.4 L1433.0,775.9 L1434.5,773.4 L1436.0,770.8 L1437.5,768.1 L1439.0,765.3 L1440.5,762.4 L1442.0,759.4 L1443.5,756.3 L1445.0,753.2 L1445.0,895.5 L1443.5,895.9 L1442.0,896.4 L1440.5,897.0 L1439.0,897.6 L1437.5,898.3 L1436.0,899.0 L1434.5,899.8 L1433.0,900.6 L1431.5,901.4 L1430.0,902.2 L1428.5,903.0 L1427.0,903.9 L1425.5,904.7 L1424.0,905.5 L1422.5,906.4 L1421.0,907.2 L1419.5,907.9 L1417.9,908.7 L1416.4,909.4 L1414.9,910.0 L1413.4,910.6 L1411.9,911.1 L1410.4,911.6 L1408.9,912.0 L1407.4,912.3 L1405.9,912.5 L1404.4,912.7 L1402.9,912.8 L1401.4,912.7 L1399.9,912.6 L1398.4,912.4 L1396.9,912.1 L1395.4,911.8 L1393.9,911.3 L1392.4,910.7 L1390.9,910.0 L1389.4,909.2 L1387.9,908.3 L1386.4,907.3 L1384.9,906.1 L1383.4,904.9 L1381.9,903.5 L1380.4,902.1 L1378.9,900.5 L1377.4,898.7 L1375.9,896.9 L1374.4,894.9 L1372.9,892.8 L1371.4,890.5 L1369.9,888.1 L1368.4,885.6 L1366.8,883.0 L1365.3,880.2 L1363.8,877.3 L1362.3,874.4 L1360.8,871.3 L1359.3,868.1 L1357.8,864.9 L1356.3,861.6 L1354.8,858.3 L1353.3,854.9 L1351.8,851.5 L1350.3,848.0 L1348.8,844.6 L1347.3,841.1 L1345.8,837.6 L1344.3,834.1 L1342.8,830.6 L1341.3,827.2 L1339.8,823.8 L1338.3,820.4 L1336.8,817.1 L1335.3,813.8 L1333.8,810.6 L1332.3,807.4 L1330.8,804.3 L1329.3,801.2 L1327.8,798.2 L1326.3,795.3 L1324.8,792.5 L1323.3,789.7 L1321.8,787.0 L1320.3,784.4 L1318.8,781.9 L1317.3,779.5 L1315.7,777.2 L1314.2,775.0 L1312.7,773.0 L1311.2,771.0 L1309.7,769.2 L1308.2,767.4 L1306.7,765.9 L1305.2,764.4 L1303.7,763.1 L1302.2,761.9 L1300.7,760.9 L1299.2,760.0 L1297.7,759.3 L1296.2,758.7 L1294.7,758.2 L1293.2,757.8 L1291.7,757.6 L1290.2,757.5 L1288.7,757.5 L1287.2,757.6 L1285.7,757.7 L1284.2,758.0 L1282.7,758.4 L1281.2,758.9 L1279.7,759.5 L1278.2,760.1 L1276.7,760.8 L1275.2,761.6 L1273.7,762.4 L1272.2,763.4 L1270.7,764.3 L1269.2,765.4 L1267.7,766.5 L1266.2,767.6 L1264.6,768.7 L1263.1,769.9 L1261.6,771.2 L1260.1,772.5 L1258.6,773.7 L1257.1,775.0 L1255.6,776.3 L1254.1,777.6 L1252.6,778.9 L1251.1,780.2 L1249.6,781.5 L1248.1,782.7 L1246.6,783.9 L1245.1,785.1 L1243.6,786.2 L1242.1,787.3 L1240.6,788.3 L1239.1,789.3 L1237.6,790.2 L1236.1,791.0 L1234.6,791.8 L1233.1,792.6 L1231.6,793.4 L1230.1,794.2 L1228.6,795.1 L1227.1,795.9 L1225.6,796.8 L1224.1,797.8 L1222.6,798.9 L1221.1,800.0 L1219.6,801.2 L1218.1,802.5 L1216.6,804.0 L1215.1,805.5 L1213.5,807.2 L1212.0,809.0 L1210.5,810.9 L1209.0,812.8 L1207.5,814.9 L1206.0,817.0 L1204.5,819.1 L1203.0,821.3 L1201.5,823.5 L1200.0,825.7 L1198.5,827.9 L1197.0,830.1 L1195.5,832.3 L1194.0,834.5 L1192.5,836.6 L1191.0,838.6 L1189.5,840.6 L1188.0,842.6 L1186.5,844.5 L1185.0,846.4 L1183.5,848.2 L1182.0,849.9 L1180.5,851.6 L1179.0,853.2 L1177.5,854.7 L1176.0,856.2 L1174.5,857.6 L1173.0,859.0 L1171.5,860.2 L1170.0,861.5 L1168.5,862.6 L1167.0,863.7 L1165.5,864.7 L1164.0,865.6 L1162.4,866.5 L1160.9,867.3 L1159.4,868.0 L1157.9,868.7 L1156.4,869.3 L1154.9,869.8 L1153.4,870.3 L1151.9,870.8 L1150.4,871.2 L1148.9,871.5 L1147.4,871.8 L1145.9,872.0 L1144.4,872.2 L1142.9,872.3 L1141.4,872.4 L1139.9,872.5 L1138.4,872.5 L1136.9,872.4 L1135.4,872.3 L1133.9,872.2 L1132.4,871.9 L1130.9,871.6 L1129.4,871.2 L1127.9,870.8 L1126.4,870.2 L1124.9,869.6 L1123.4,868.9 L1121.9,868.0 L1120.4,867.1 L1118.9,866.1 L1117.4,864.9 L1115.9,863.7 L1114.4,862.3 L1112.9,860.9 L1111.3,859.3 L1109.8,857.6 L1108.3,855.8 L1106.8,853.9 L1105.3,851.8 L1103.8,849.7 L1102.3,847.4 L1100.8,845.0 L1099.3,842.5 L1097.8,839.9 L1096.3,837.1 L1094.8,834.3 L1093.3,831.3 L1091.8,828.1 L1090.3,824.9 L1088.8,821.6 L1087.3,818.1 L1085.8,814.6 L1084.3,811.0 L1082.8,807.4 L1081.3,803.6 L1079.8,799.9 L1078.3,796.1 L1076.8,792.2 L1075.3,788.4 L1073.8,784.5 L1072.3,780.6 L1070.8,776.7 L1069.3,772.8 L1067.8,769.0 L1066.3,765.2 L1064.8,761.4 L1063.3,757.6 L1061.8,754.0 L1060.2,750.3 L1058.7,746.8 L1057.2,743.3 L1055.7,739.8 L1054.2,736.4 L1052.7,733.0 L1051.2,729.7 L1049.7,726.4 L1048.2,723.2 L1046.7,720.0 L1045.2,716.8 L1043.7,713.8 L1042.2,710.8 L1040.7,707.9 L1039.2,705.1 L1037.7,702.5 L1036.2,699.9 L1034.7,697.5 L1033.2,695.2 L1031.7,693.0 L1030.2,691.0 L1028.7,689.2 L1027.2,687.5 L1025.7,686.0 L1024.2,684.6 L1022.7,683.5 L1021.2,682.6 L1019.7,681.8 L1018.2,681.3 L1016.7,680.9 L1015.2,680.8 L1013.7,680.9 L1012.2,681.1 L1010.7,681.6 L1009.1,682.2 L1007.6,683.0 L1006.1,684.0 L1004.6,685.1 L1003.1,686.5 L1001.6,688.0 L1000.1,689.6 L998.6,691.4 L997.1,693.4 L995.6,695.5 L994.1,697.7 L992.6,700.0 L991.1,702.4 L989.6,705.0 L988.1,707.6 L986.6,710.3 L985.1,713.1 L983.6,715.9 L982.1,718.9 L980.6,721.9 L979.1,724.9 L977.6,727.9 L976.1,731.0 L974.6,734.1 L973.1,737.3 L971.6,740.4 L970.1,743.6 L968.6,746.7 L967.1,749.8 L965.6,752.9 L964.1,755.9 L962.6,758.9 L961.1,761.9 L959.6,764.8 L958.0,767.6 L956.5,770.4 L955.0,773.1 L953.5,775.7 L952.0,778.2 L950.5,780.6 L949.0,782.9 L947.5,785.1 L946.0,787.2 L944.5,789.1 L943.0,791.0 L941.5,792.7 L940.0,794.3 L938.5,795.8 L937.0,797.1 L935.5,798.3 L934.0,799.4 L932.5,800.4 L931.0,801.2 L929.5,801.9 L928.0,802.4 L926.5,802.8 L925.0,803.1 L923.5,803.2 L922.0,803.1 L920.5,802.9 L919.0,802.6 L917.5,802.1 L916.0,801.4 L914.5,800.7 L913.0,799.8 L911.5,798.8 L910.0,797.8 L908.5,796.6 L906.9,795.4 L905.4,794.2 L903.9,792.9 L902.4,791.6 L900.9,790.3 L899.4,789.0 L897.9,787.8 L896.4,786.5 L894.9,785.3 L893.4,784.1 L891.9,783.0 L890.4,782.0 L888.9,781.0 L887.4,780.2 L885.9,779.5 L884.4,778.9 L882.9,778.5 L881.4,778.2Z" fill="#cccccc"/>
<path d="M881.4,668.5 L882.9,671.5 L884.4,674.4 L885.9,677.3 L887.4,680.1 L888.9,682.8 L890.4,685.5 L891.9,688.1 L893.4,690.6 L894.9,693.1 L896.4,695.6 L897.9,697.9 L899.4,700.2 L900.9,702.5 L902.4,704.6 L903.9,706.8 L905.4,708.8 L906.9,710.8 L908.4,712.8 L909.9,714.7 L911.4,716.5 L912.9,718.3 L914.4,720.0 L915.9,721.6 L917.4,723.2 L918.9,724.7 L920.4,726.1 L921.9,727.4 L923.4,728.6 L924.9,729.7 L926.4,730.7 L927.9,731.6 L929.4,732.4 L930.9,733.0 L932.4,733.5 L933.9,733.9 L935.4,734.1 L936.9,734.2 L938.4,734.1 L939.9,733.9 L941.4,733.5 L942.9,732.9 L944.4,732.1 L945.9,731.2 L947.4,730.1 L948.9,728.8 L950.4,727.3 L951.9,725.8 L953.4,724.0 L954.9,722.2 L956.4,720.2 L957.9,718.1 L959.4,715.9 L960.9,713.6 L962.4,711.2 L963.9,708.8 L965.4,706.2 L966.9,703.7 L968.4,701.0 L969.9,698.3 L971.4,695.6 L972.9,692.9 L974.4,690.1 L975.9,687.3 L977.4,684.5 L978.9,681.8 L980.4,679.0 L981.9,676.3 L983.4,673.6 L984.9,670.9 L986.4,668.3 L987.9,665.8 L989.4,663.3 L990.9,660.9 L992.4,658.6 L993.9,656.3 L995.4,654.2 L996.9,652.2 L998.4,650.3 L999.9,648.5 L1001.4,646.9 L1002.9,645.4 L1004.4,644.1 L1005.9,643.0 L1007.4,642.0 L1008.9,641.2 L1010.4,640.5 L1011.9,640.1 L1013.4,639.8 L1014.9,639.8 L1016.4,639.9 L1017.9,640.1 L1019.4,640.6 L1020.9,641.2 L1022.4,642.0 L1023.9,642.9 L1025.4,644.0 L1026.9,645.3 L1028.4,646.8 L1029.9,648.4 L1031.4,650.2 L1032.9,652.1 L1034.4,654.2 L1035.9,656.4 L1037.4,658.8 L1038.9,661.4 L1040.4,664.1 L1041.9,666.9 L1043.4,669.8 L1044.9,672.8 L1046.4,675.9 L1047.9,679.1 L1049.4,682.4 L1050.9,685.6 L1052.4,688.9 L1053.9,692.2 L1055.4,695.5 L1056.9,698.9 L1058.4,702.4 L1059.9,706.1 L1061.4,710.0 L1062.9,714.3 L1064.4,718.8 L1065.9,723.5 L1067.4,728.2 L1068.9,732.6 L1070.4,736.9 L1071.9,740.9 L1073.4,744.8 L1074.9,748.4 L1076.4,752.0 L1077.9,755.4 L1079.4,758.7 L1080.9,761.9 L1082.4,765.0 L1083.9,768.1 L1085.4,771.0 L1086.9,773.9 L1088.4,776.7 L1089.9,779.5 L1091.4,782.2 L1092.9,784.8 L1094.4,787.3 L1095.9,789.8 L1097.4,792.2 L1098.9,794.5 L1100.4,796.8 L1101.9,799.0 L1103.4,801.1 L1104.9,803.2 L1106.4,805.1 L1107.9,807.0 L1109.4,808.8 L1110.9,810.5 L1112.4,812.1 L1113.9,813.7 L1115.4,815.1 L1116.9,816.4 L1118.4,817.6 L1119.9,818.7 L1121.4,819.7 L1122.9,820.6 L1124.4,821.4 L1125.9,822.0 L1127.4,822.6 L1128.9,823.0 L1130.4,823.4 L1131.9,823.7 L1133.4,823.8 L1134.9,823.9 L1136.4,824.0 L1137.9,823.9 L1139.4,823.8 L1140.9,823.6 L1142.4,823.3 L1143.9,823.0 L1145.4,822.7 L1146.9,822.3 L1148.4,821.8 L1149.9,821.3 L1151.4,820.8 L1152.9,820.2 L1154.4,819.6 L1155.9,819.0 L1157.4,818.3 L1158.9,817.7 L1160.4,817.0 L1161.9,816.3 L1163.5,815.7 L1165.0,815.0 L1166.5,814.3 L1168.0,813.7 L1169.5,813.0 L1171.0,812.3 L1172.5,811.7 L1174.0,811.0 L1175.5,810.3 L1177.0,809.7 L1178.5,809.0 L1180.0,808.3 L1181.5,807.6 L1183.0,806.9 L1184.5,806.2 L1186.0,805.5 L1187.5,804.8 L1189.0,804.0 L1190.5,803.2 L1192.0,802.5 L1193.5,801.6 L1195.0,800.8 L1196.5,800.0 L1198.0,799.1 L1199.5,798.2 L1201.0,797.3 L1202.5,796.3 L1204.0,795.3 L1205.5,794.3 L1207.0,793.3 L1208.5,792.2 L1210.0,791.1 L1211.5,790.0 L1213.0,788.8 L1214.5,787.5 L1216.0,786.3 L1217.5,785.0 L1219.0,783.6 L1220.5,782.2 L1222.0,780.8 L1223.5,779.3 L1225.0,777.8 L1226.5,776.2 L1228.0,774.6 L1229.5,773.0 L1231.0,771.4 L1232.5,769.7 L1234.0,768.0 L1235.5,766.3 L1237.0,764.6 L1238.5,762.9 L1240.0,761.1 L1241.5,759.4 L1243.0,757.7 L1244.5,755.9 L1246.0,754.2 L1247.5,752.5 L1249.0,750.8 L1250.5,749.2 L1252.0,747.5 L1253.5,745.9 L1255.0,744.3 L1256.5,742.8 L1258.0,741.3 L1259.5,739.8 L1261.0,738.4 L1262.5,737.0 L1264.0,735.7 L1265.5,734.4 L1267.0,733.2 L1268.5,732.1 L1270.0,731.0 L1271.5,730.0 L1273.0,729.0 L1274.5,728.2 L1276.0,727.4 L1277.5,726.7 L1279.0,726.1 L1280.5,725.6 L1282.0,725.1 L1283.5,724.8 L1285.0,724.6 L1286.5,724.4 L1288.0,724.4 L1289.5,724.5 L1291.0,724.7 L1292.5,725.0 L1294.0,725.4 L1295.5,725.9 L1297.0,726.6 L1298.5,727.4 L1300.0,728.3 L1301.5,729.4 L1303.0,730.6 L1304.5,731.9 L1306.0,733.4 L1307.5,735.0 L1309.0,736.8 L1310.5,738.6 L1312.0,740.6 L1313.5,742.6 L1315.0,744.8 L1316.5,747.0 L1318.0,749.2 L1319.5,751.5 L1321.0,753.9 L1322.5,756.3 L1324.0,758.7 L1325.5,761.1 L1327.0,763.6 L1328.5,766.2 L1330.0,769.0 L1331.5,772.1 L1333.0,775.4 L1334.5,778.9 L1336.0,782.5 L1337.5,786.1 L1339.0,789.7 L1340.5,793.2 L1342.0,796.5 L1343.5,799.8 L1345.0,803.0 L1346.5,806.2 L1348.0,809.2 L1349.5,812.2 L1351.0,815.1 L1352.5,817.9 L1354.0,820.6 L1355.5,823.2 L1357.0,825.8 L1358.5,828.2 L1360.0,830.6 L1361.5,832.9 L1363.0,835.1 L1364.5,837.2 L1366.0,839.3 L1367.5,841.2 L1369.0,843.1 L1370.5,844.9 L1372.0,846.6 L1373.5,848.2 L1375.0,849.7 L1376.5,851.1 L1378.0,852.4 L1379.5,853.7 L1381.0,854.9 L1382.5,855.9 L1384.0,856.9 L1385.5,857.8 L1387.0,858.6 L1388.5,859.3 L1390.0,859.9 L1391.5,860.4 L1393.0,860.8 L1394.5,861.1 L1396.0,861.3 L1397.5,861.4 L1399.0,861.4 L1400.5,861.3 L1402.0,861.1 L1403.5,860.8 L1405.0,860.4 L1406.5,859.9 L1408.0,859.4 L1409.5,858.7 L1411.0,858.0 L1412.5,857.1 L1414.0,856.2 L1415.5,855.2 L1417.0,854.1 L1418.5,853.0 L1420.0,851.8 L1421.5,850.5 L1423.0,849.1 L1424.5,847.7 L1426.0,846.2 L1427.5,844.8 L1429.0,843.3 L1430.5,841.7 L1432.0,840.2 L1433.5,838.7 L1435.0,837.2 L1436.5,835.8 L1438.0,834.3 L1439.5,832.9 L1441.0,831.4 L1442.5,829.5 L1444.0,827.2 L1445.5,824.3" fill="none" stroke="#000" stroke-width="4.5" stroke-linejoin="round" stroke-linecap="butt"/>
<path d="M879.6,914.3H883.5V928.7H879.6ZM926.6,914.3H930.5V928.7H926.6ZM947.6,914.3H951.5V928.7H947.6ZM955.4,914.3H960.6V928.7H955.4ZM968.4,914.3H980.6V928.7H968.4ZM994.5,914.3H998.4V928.7H994.5ZM1004.5,914.3H1008.4V928.7H1004.5ZM1010.5,914.3H1014.4V928.7H1010.5ZM1026.0,914.3H1030.0V928.7H1026.0ZM1035.0,914.3H1039.0V928.7H1035.0ZM1043.3,914.3H1055.7V928.7H1043.3ZM1069.6,914.3H1073.6V928.7H1069.6ZM1076.4,914.3H1080.4V928.7H1076.4ZM1098.0,914.3H1102.0V928.7H1098.0ZM1105.0,914.3H1109.0V928.7H1105.0ZM1122.0,914.3H1126.0V928.7H1122.0ZM1133.8,914.3H1137.8V928.7H1133.8ZM1154.8,914.3H1158.8V928.7H1154.8ZM1176.0,914.3H1186.2V928.7H1176.0ZM1207.8,914.3H1211.8V928.7H1207.8ZM1228.5,914.3H1243.9V928.7H1228.5ZM1255.9,914.3H1259.9V928.7H1255.9ZM1273.8,914.3H1277.8V928.7H1273.8ZM1299.6,914.3H1308.0V928.7H1299.6ZM1311.3,914.3H1317.4V928.7H1311.3ZM1332.3,914.3H1341.9V928.7H1332.3ZM1343.8,914.3H1347.8V928.7H1343.8ZM1362.5,914.3H1366.5V928.7H1362.5ZM1403.3,914.3H1407.2V928.7H1403.3ZM1442.3,914.3H1446.2V928.7H1442.3Z" fill="#000"/>
<rect x="860.0" y="546.7" width="609.2" height="380.5" fill="none" stroke="#000" stroke-width="3.0"/>
<path d="M860.0,600.6h-20.0M860.0,677.6h-20.0M860.0,755.3h-20.0M860.0,832.4h-20.0M860.0,913.4h-20.0M896.0,927.2v20.0M992.4,927.2v20.0M1088.8,927.2v20.0M1182.0,927.2v20.0M1277.5,927.2v20.0M1374.5,927.2v20.0" fill="none" stroke="#000" stroke-width="2.8"/>
<text class="tl ty" text-anchor="middle" transform="translate(817.5,600.6) rotate(-90) scale(0.95,1)">2</text>
<text class="tl ty" text-anchor="middle" transform="translate(817.5,677.6) rotate(-90) scale(0.95,1)">1</text>
<text class="tl ty" text-anchor="middle" transform="translate(817.5,755.3) rotate(-90) scale(0.95,1)">0</text>
<text class="tl ty" text-anchor="middle" transform="translate(817.5,832.4) rotate(-90) scale(0.95,1)">-1</text>
<text class="tl ty" text-anchor="middle" transform="translate(817.5,913.4) rotate(-90) scale(0.95,1)">-2</text>
<text class="tl" text-anchor="middle" transform="translate(895.0,997.3) scale(0.95,1)">500</text>
<text class="tl" text-anchor="middle" transform="translate(991.0,997.3) scale(0.95,1)">1000</text>
<text class="tl" text-anchor="middle" transform="translate(1087.4,997.3) scale(0.95,1)">1500</text>
<text class="tl" text-anchor="middle" transform="translate(1182.2,997.3) scale(0.95,1)">2000</text>
<text class="tl" text-anchor="middle" transform="translate(1277.0,997.3) scale(0.95,1)">2500</text>
<text class="tl" text-anchor="middle" transform="translate(1373.5,997.3) scale(0.95,1)">3000</text>
</g>
<g>
<text class="ti" font-size="46" x="329.5" y="532.0" textLength="179.0" lengthAdjust="spacingAndGlyphs">Latitude</text>
<text class="ti" font-size="46" x="1045.5" y="531.6" textLength="246.0" lengthAdjust="spacingAndGlyphs">Width (km)</text>
<text class="ti" font-size="46" x="306.5" y="1040.0" textLength="260.5" lengthAdjust="spacingAndGlyphs">Length (km)</text>
<text class="ti" font-size="46" x="1064.5" y="1040.2" textLength="219.5" lengthAdjust="spacingAndGlyphs">Depth (m)</text>
<text class="ti" font-size="46" textLength="82.8" lengthAdjust="spacingAndGlyphs" transform="translate(35.7,241.5) rotate(-90)">Krill</text>
<text class="ti" font-size="46" textLength="82.8" lengthAdjust="spacingAndGlyphs" transform="translate(35.3,750.4) rotate(-90)">Krill</text>
<text class="ti" font-size="39.5" x="40.0" y="32.5" textLength="49.0" lengthAdjust="spacingAndGlyphs">(a)</text>
<text class="ti" font-size="39.5" x="734.0" y="32.5" textLength="51.5" lengthAdjust="spacingAndGlyphs">(b)</text>
<text class="ti" font-size="39.5" x="41.5" y="523.2" textLength="45.3" lengthAdjust="spacingAndGlyphs">(c)</text>
<text class="ti" font-size="39.5" x="746.7" y="536.5" textLength="51.3" lengthAdjust="spacingAndGlyphs">(d)</text>
</g>
</svg>
</body>
</html>
